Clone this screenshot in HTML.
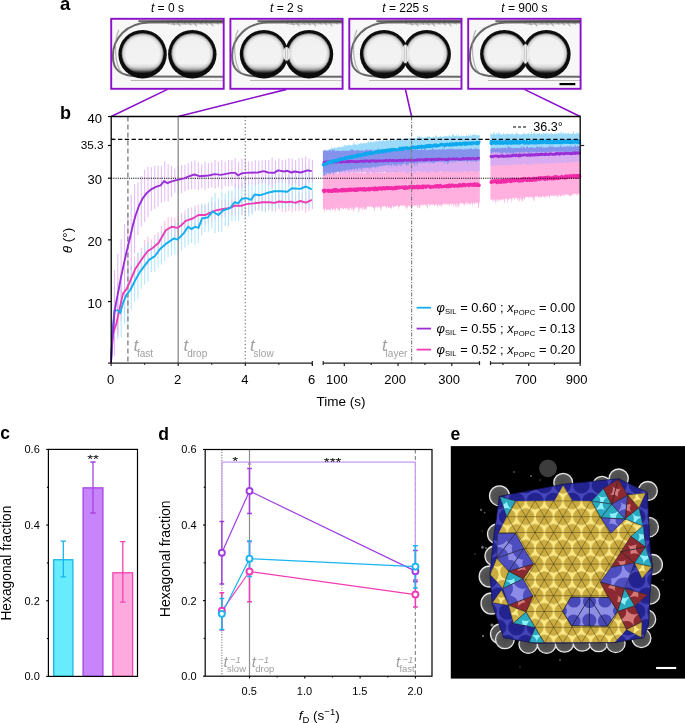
<!DOCTYPE html>
<html><head><meta charset="utf-8"><style>
html,body{margin:0;padding:0;background:#fff;}
body{width:685px;height:723px;overflow:hidden;}
svg{display:block;font-family:"Liberation Sans", sans-serif;}
</style></head><body>
<svg width="685" height="723" viewBox="0 0 685 723">
<rect width="685" height="723" fill="#fff"/>
<defs>
<linearGradient id="dropin" x1="0" y1="0" x2="0" y2="1"><stop offset="0" stop-color="#cfcfcf"/><stop offset="0.07" stop-color="#f0f0f0"/><stop offset="0.74" stop-color="#f3f3f3"/><stop offset="0.83" stop-color="#dadada"/><stop offset="0.9" stop-color="#a0a0a0"/><stop offset="0.96" stop-color="#404040"/><stop offset="1" stop-color="#151515"/></linearGradient>
<linearGradient id="bgv" x1="0" y1="0" x2="0" y2="1"><stop offset="0" stop-color="#e9e9e9"/><stop offset="0.2" stop-color="#f7f7f7"/><stop offset="0.8" stop-color="#f5f5f5"/><stop offset="1" stop-color="#e6e6e6"/></linearGradient>
<radialGradient id="dropsh" cx="50%" cy="50%" r="50%"><stop offset="0.8" stop-color="#000" stop-opacity="0"/><stop offset="0.93" stop-color="#000" stop-opacity="0.12"/><stop offset="1" stop-color="#000" stop-opacity="0.45"/></radialGradient>
<filter id="bl1" x="-20%" y="-20%" width="140%" height="140%"><feGaussianBlur stdDeviation="0.75"/></filter>
<filter id="bl2" x="-20%" y="-20%" width="140%" height="140%"><feGaussianBlur stdDeviation="1.2"/></filter>
<clipPath id="fc0"><rect x="111.3" y="18.9" width="112.3" height="69.80000000000001"/></clipPath>
<clipPath id="fc1"><rect x="230.5" y="18.9" width="112.0" height="69.80000000000001"/></clipPath>
<clipPath id="cl1"><rect x="229.5" y="17.9" width="57.10000000000002" height="71.80000000000001"/></clipPath>
<clipPath id="cr1"><rect x="286.6" y="17.9" width="56.89999999999998" height="71.80000000000001"/></clipPath>
<clipPath id="fc2"><rect x="349.4" y="18.9" width="112.0" height="69.80000000000001"/></clipPath>
<clipPath id="cl2"><rect x="348.4" y="17.9" width="57.0" height="71.80000000000001"/></clipPath>
<clipPath id="cr2"><rect x="405.4" y="17.9" width="57.0" height="71.80000000000001"/></clipPath>
<clipPath id="fc3"><rect x="468.3" y="18.9" width="112.19999999999999" height="69.80000000000001"/></clipPath>
<clipPath id="cl3"><rect x="467.3" y="17.9" width="58.099999999999966" height="71.80000000000001"/></clipPath>
<clipPath id="cr3"><rect x="525.4" y="17.9" width="56.10000000000002" height="71.80000000000001"/></clipPath>
</defs>
<text x="167.45" y="11.8" font-size="12" text-anchor="middle"><tspan font-style="italic">t</tspan> = 0 s</text>
<g clip-path="url(#fc0)">
<rect x="110.3" y="17.9" width="114.3" height="71.80000000000001" fill="#f7f7f7"/>
<path d="M229.6,22.3 L148.9,22.5 C126.9,23.1 112.9,37.9 112.9,55.9 C112.9,69.9 119.9,76.1 138.9,76.5 L229.6,76.7" fill="none" stroke="#505050" stroke-width="2.0" opacity="0.85" filter="url(#bl1)"/>
<path d="M118.9,29.9 C113.9,39.9 113.9,63.9 121.9,72.9" fill="none" stroke="#888" stroke-width="1.2" opacity="0.6" filter="url(#bl1)"/>
<path d="M138.3,21.5 L229.6,20.9" fill="none" stroke="#2a2a2a" stroke-width="2.4" opacity="0.7" filter="url(#bl1)"/>
<path d="M170.3,24.4 L229.6,23.4" fill="none" stroke="#999" stroke-width="1.2" opacity="0.5" filter="url(#bl1)"/>
<path d="M165.3,21.4 l4,3 M170.8,21.4 l4,4 M176.3,21.4 l4,5 M181.8,21.4 l4,3 M187.3,21.4 l4,4 M192.8,21.4 l4,5 M198.3,21.4 l4,3 M203.8,21.4 l4,4 M209.3,21.4 l4,5 M214.8,21.4 l4,3 " stroke="#666" stroke-width="1.1" opacity="0.45" fill="none" filter="url(#bl1)"/>
<path d="M130.9,80.5 L229.6,80.1" fill="none" stroke="#8a8a8a" stroke-width="1.4" opacity="0.6" filter="url(#bl1)"/>
<circle cx="142.6" cy="54.2" r="24.2" fill="#0a0a0a" filter="url(#bl1)"/><circle cx="192.3" cy="54.2" r="24.2" fill="#0a0a0a" filter="url(#bl1)"/><ellipse cx="142.6" cy="53.5" rx="20.8" ry="20.2" fill="url(#dropin)" filter="url(#bl1)"/><ellipse cx="142.6" cy="53.5" rx="20.8" ry="20.2" fill="url(#dropsh)"/><ellipse cx="192.3" cy="53.5" rx="20.8" ry="20.2" fill="url(#dropin)" filter="url(#bl1)"/><ellipse cx="192.3" cy="53.5" rx="20.8" ry="20.2" fill="url(#dropsh)"/>
</g>
<rect x="111.2" y="18.8" width="112.5" height="70" fill="none" stroke="#8c0fcc" stroke-width="1.9"/>
<text x="286.5" y="11.8" font-size="12" text-anchor="middle"><tspan font-style="italic">t</tspan> = 2 s</text>
<g clip-path="url(#fc1)">
<rect x="229.5" y="17.9" width="114.0" height="71.80000000000001" fill="#f7f7f7"/>
<path d="M348.5,22.3 L268.1,22.5 C246.1,23.1 232.1,37.9 232.1,55.9 C232.1,69.9 239.1,76.1 258.1,76.5 L348.5,76.7" fill="none" stroke="#505050" stroke-width="2.0" opacity="0.85" filter="url(#bl1)"/>
<path d="M238.1,29.9 C233.1,39.9 233.1,63.9 241.1,72.9" fill="none" stroke="#888" stroke-width="1.2" opacity="0.6" filter="url(#bl1)"/>
<path d="M257.5,21.5 L348.5,20.9" fill="none" stroke="#2a2a2a" stroke-width="2.4" opacity="0.7" filter="url(#bl1)"/>
<path d="M289.5,24.4 L348.5,23.4" fill="none" stroke="#999" stroke-width="1.2" opacity="0.5" filter="url(#bl1)"/>
<path d="M284.5,21.4 l4,3 M290,21.4 l4,4 M295.5,21.4 l4,5 M301,21.4 l4,3 M306.5,21.4 l4,4 M312,21.4 l4,5 M317.5,21.4 l4,3 M323,21.4 l4,4 M328.5,21.4 l4,5 M334,21.4 l4,3 " stroke="#666" stroke-width="1.1" opacity="0.45" fill="none" filter="url(#bl1)"/>
<path d="M250.1,80.5 L348.5,80.1" fill="none" stroke="#8a8a8a" stroke-width="1.4" opacity="0.6" filter="url(#bl1)"/>
<circle cx="264" cy="54.2" r="24.2" fill="#0a0a0a" filter="url(#bl1)"/><circle cx="309" cy="54.2" r="24.2" fill="#0a0a0a" filter="url(#bl1)"/><ellipse cx="264" cy="53.5" rx="20.8" ry="20.2" fill="url(#dropin)" filter="url(#bl1)"/><ellipse cx="264" cy="53.5" rx="20.8" ry="20.2" fill="url(#dropsh)"/><ellipse cx="309" cy="53.5" rx="20.8" ry="20.2" fill="url(#dropin)" filter="url(#bl1)"/><ellipse cx="309" cy="53.5" rx="20.8" ry="20.2" fill="url(#dropsh)"/><ellipse cx="286.6" cy="53.9" rx="3.6" ry="6.81" fill="#ececec" filter="url(#bl1)"/><path d="M285.5,46.79 V61.61 M287.7,46.79 V61.61" stroke="#888" stroke-width="0.7" opacity="0.55" fill="none"/>
</g>
<rect x="230.4" y="18.8" width="112.2" height="70" fill="none" stroke="#8c0fcc" stroke-width="1.9"/>
<text x="405.4" y="11.8" font-size="12" text-anchor="middle"><tspan font-style="italic">t</tspan> = 225 s</text>
<g clip-path="url(#fc2)">
<rect x="348.4" y="17.9" width="114.0" height="71.80000000000001" fill="#f7f7f7"/>
<path d="M467.4,22.3 L387,22.5 C365,23.1 351,37.9 351,55.9 C351,69.9 358,76.1 377,76.5 L467.4,76.7" fill="none" stroke="#505050" stroke-width="2.0" opacity="0.85" filter="url(#bl1)"/>
<path d="M357,29.9 C352,39.9 352,63.9 360,72.9" fill="none" stroke="#888" stroke-width="1.2" opacity="0.6" filter="url(#bl1)"/>
<path d="M376.4,21.5 L467.4,20.9" fill="none" stroke="#2a2a2a" stroke-width="2.4" opacity="0.7" filter="url(#bl1)"/>
<path d="M408.4,24.4 L467.4,23.4" fill="none" stroke="#999" stroke-width="1.2" opacity="0.5" filter="url(#bl1)"/>
<path d="M403.4,21.4 l4,3 M408.9,21.4 l4,4 M414.4,21.4 l4,5 M419.9,21.4 l4,3 M425.4,21.4 l4,4 M430.9,21.4 l4,5 M436.4,21.4 l4,3 M441.9,21.4 l4,4 M447.4,21.4 l4,5 M452.9,21.4 l4,3 " stroke="#666" stroke-width="1.1" opacity="0.45" fill="none" filter="url(#bl1)"/>
<path d="M369,80.5 L467.4,80.1" fill="none" stroke="#8a8a8a" stroke-width="1.4" opacity="0.6" filter="url(#bl1)"/>
<circle cx="384.1" cy="54.2" r="24.2" fill="#0a0a0a" filter="url(#bl1)"/><circle cx="426.7" cy="54.2" r="24.2" fill="#0a0a0a" filter="url(#bl1)"/><ellipse cx="384.1" cy="53.5" rx="20.8" ry="20.2" fill="url(#dropin)" filter="url(#bl1)"/><ellipse cx="384.1" cy="53.5" rx="20.8" ry="20.2" fill="url(#dropsh)"/><ellipse cx="426.7" cy="53.5" rx="20.8" ry="20.2" fill="url(#dropin)" filter="url(#bl1)"/><ellipse cx="426.7" cy="53.5" rx="20.8" ry="20.2" fill="url(#dropsh)"/><ellipse cx="405.4" cy="53.9" rx="3.6" ry="9.39" fill="#ececec" filter="url(#bl1)"/><path d="M404.3,44.21 V64.19 M406.5,44.21 V64.19" stroke="#888" stroke-width="0.7" opacity="0.55" fill="none"/>
</g>
<rect x="349.3" y="18.8" width="112.2" height="70" fill="none" stroke="#8c0fcc" stroke-width="1.9"/>
<text x="524.4" y="11.8" font-size="12" text-anchor="middle"><tspan font-style="italic">t</tspan> = 900 s</text>
<g clip-path="url(#fc3)">
<rect x="467.3" y="17.9" width="114.19999999999999" height="71.80000000000001" fill="#f7f7f7"/>
<path d="M586.5,22.3 L505.9,22.5 C483.9,23.1 469.9,37.9 469.9,55.9 C469.9,69.9 476.9,76.1 495.9,76.5 L586.5,76.7" fill="none" stroke="#505050" stroke-width="2.0" opacity="0.85" filter="url(#bl1)"/>
<path d="M475.9,29.9 C470.9,39.9 470.9,63.9 478.9,72.9" fill="none" stroke="#888" stroke-width="1.2" opacity="0.6" filter="url(#bl1)"/>
<path d="M495.3,21.5 L586.5,20.9" fill="none" stroke="#2a2a2a" stroke-width="2.4" opacity="0.7" filter="url(#bl1)"/>
<path d="M527.3,24.4 L586.5,23.4" fill="none" stroke="#999" stroke-width="1.2" opacity="0.5" filter="url(#bl1)"/>
<path d="M522.3,21.4 l4,3 M527.8,21.4 l4,4 M533.3,21.4 l4,5 M538.8,21.4 l4,3 M544.3,21.4 l4,4 M549.8,21.4 l4,5 M555.3,21.4 l4,3 M560.8,21.4 l4,4 M566.3,21.4 l4,5 M571.8,21.4 l4,3 " stroke="#666" stroke-width="1.1" opacity="0.45" fill="none" filter="url(#bl1)"/>
<path d="M487.9,80.5 L586.5,80.1" fill="none" stroke="#8a8a8a" stroke-width="1.4" opacity="0.6" filter="url(#bl1)"/>
<circle cx="504.3" cy="54.2" r="24.2" fill="#0a0a0a" filter="url(#bl1)"/><circle cx="546.4" cy="54.2" r="24.2" fill="#0a0a0a" filter="url(#bl1)"/><ellipse cx="504.3" cy="53.5" rx="20.8" ry="20.2" fill="url(#dropin)" filter="url(#bl1)"/><ellipse cx="504.3" cy="53.5" rx="20.8" ry="20.2" fill="url(#dropsh)"/><ellipse cx="546.4" cy="53.5" rx="20.8" ry="20.2" fill="url(#dropin)" filter="url(#bl1)"/><ellipse cx="546.4" cy="53.5" rx="20.8" ry="20.2" fill="url(#dropsh)"/><ellipse cx="525.4" cy="53.9" rx="3.6" ry="9.84" fill="#ececec" filter="url(#bl1)"/><path d="M524.3,43.76 V64.64 M526.5,43.76 V64.64" stroke="#888" stroke-width="0.7" opacity="0.55" fill="none"/>
</g>
<rect x="468.2" y="18.8" width="112.4" height="70" fill="none" stroke="#8c0fcc" stroke-width="1.9"/>
<line x1="559.5" y1="84.1" x2="575.3" y2="84.1" stroke="#000" stroke-width="2.2"/>
<line x1="167.45" y1="89.4" x2="111.2" y2="116.5" stroke="#8c0fcc" stroke-width="1.6"/>
<line x1="286.5" y1="89.4" x2="178.2" y2="116.5" stroke="#8c0fcc" stroke-width="1.6"/>
<line x1="405.4" y1="89.4" x2="411.6" y2="116.5" stroke="#8c0fcc" stroke-width="1.6"/>
<line x1="524.4" y1="89.4" x2="580.2" y2="116.5" stroke="#8c0fcc" stroke-width="1.6"/>
<text x="59.9" y="9.8" font-size="18.5" font-weight="bold">a</text>
<g id="panelb">
<line x1="114.45" y1="308.55" x2="114.45" y2="350.22" stroke="#ffb3dc" stroke-width="1.1" opacity="0.85"/><line x1="114.45" y1="285.8" x2="114.45" y2="335.93" stroke="#a8e2fb" stroke-width="1.1" opacity="0.85"/><line x1="114.45" y1="269.92" x2="114.45" y2="355.64" stroke="#dfb2f2" stroke-width="1.1" opacity="0.85"/><line x1="117.81" y1="297.73" x2="117.81" y2="336.08" stroke="#ffb3dc" stroke-width="1.1" opacity="0.85"/><line x1="117.81" y1="282.1" x2="117.81" y2="338.7" stroke="#a8e2fb" stroke-width="1.1" opacity="0.85"/><line x1="117.81" y1="253.79" x2="117.81" y2="334.4" stroke="#dfb2f2" stroke-width="1.1" opacity="0.85"/><line x1="121.16" y1="282.63" x2="121.16" y2="320.8" stroke="#ffb3dc" stroke-width="1.1" opacity="0.85"/><line x1="121.16" y1="281.35" x2="121.16" y2="337.48" stroke="#a8e2fb" stroke-width="1.1" opacity="0.85"/><line x1="121.16" y1="239.36" x2="121.16" y2="313.43" stroke="#dfb2f2" stroke-width="1.1" opacity="0.85"/><line x1="124.52" y1="270.11" x2="124.52" y2="313.23" stroke="#ffb3dc" stroke-width="1.1" opacity="0.85"/><line x1="124.52" y1="275.06" x2="124.52" y2="323.84" stroke="#a8e2fb" stroke-width="1.1" opacity="0.85"/><line x1="124.52" y1="224.03" x2="124.52" y2="297.71" stroke="#dfb2f2" stroke-width="1.1" opacity="0.85"/><line x1="127.88" y1="264.73" x2="127.88" y2="307.73" stroke="#ffb3dc" stroke-width="1.1" opacity="0.85"/><line x1="127.88" y1="262.26" x2="127.88" y2="323.75" stroke="#a8e2fb" stroke-width="1.1" opacity="0.85"/><line x1="127.88" y1="213.2" x2="127.88" y2="279.74" stroke="#dfb2f2" stroke-width="1.1" opacity="0.85"/><line x1="131.23" y1="265.68" x2="131.23" y2="291.36" stroke="#ffb3dc" stroke-width="1.1" opacity="0.85"/><line x1="131.23" y1="266.35" x2="131.23" y2="309.96" stroke="#a8e2fb" stroke-width="1.1" opacity="0.85"/><line x1="131.23" y1="195.11" x2="131.23" y2="269.97" stroke="#dfb2f2" stroke-width="1.1" opacity="0.85"/><line x1="134.58" y1="256.2" x2="134.58" y2="284.85" stroke="#ffb3dc" stroke-width="1.1" opacity="0.85"/><line x1="134.58" y1="261.17" x2="134.58" y2="301.87" stroke="#a8e2fb" stroke-width="1.1" opacity="0.85"/><line x1="134.58" y1="184.15" x2="134.58" y2="253.86" stroke="#dfb2f2" stroke-width="1.1" opacity="0.85"/><line x1="137.94" y1="252.89" x2="137.94" y2="277.08" stroke="#ffb3dc" stroke-width="1.1" opacity="0.85"/><line x1="137.94" y1="252.17" x2="137.94" y2="298.68" stroke="#a8e2fb" stroke-width="1.1" opacity="0.85"/><line x1="137.94" y1="182.56" x2="137.94" y2="235.02" stroke="#dfb2f2" stroke-width="1.1" opacity="0.85"/><line x1="141.29" y1="247.46" x2="141.29" y2="272.47" stroke="#ffb3dc" stroke-width="1.1" opacity="0.85"/><line x1="141.29" y1="251.51" x2="141.29" y2="288.69" stroke="#a8e2fb" stroke-width="1.1" opacity="0.85"/><line x1="141.29" y1="175.96" x2="141.29" y2="226.38" stroke="#dfb2f2" stroke-width="1.1" opacity="0.85"/><line x1="144.65" y1="239.91" x2="144.65" y2="270.56" stroke="#ffb3dc" stroke-width="1.1" opacity="0.85"/><line x1="144.65" y1="246.62" x2="144.65" y2="284.59" stroke="#a8e2fb" stroke-width="1.1" opacity="0.85"/><line x1="144.65" y1="169.66" x2="144.65" y2="221.91" stroke="#dfb2f2" stroke-width="1.1" opacity="0.85"/><line x1="148" y1="236.45" x2="148" y2="265.62" stroke="#ffb3dc" stroke-width="1.1" opacity="0.85"/><line x1="148" y1="241.09" x2="148" y2="281.49" stroke="#a8e2fb" stroke-width="1.1" opacity="0.85"/><line x1="148" y1="166.79" x2="148" y2="217" stroke="#dfb2f2" stroke-width="1.1" opacity="0.85"/><line x1="151.36" y1="239.26" x2="151.36" y2="258.37" stroke="#ffb3dc" stroke-width="1.1" opacity="0.85"/><line x1="151.36" y1="244.52" x2="151.36" y2="272.29" stroke="#a8e2fb" stroke-width="1.1" opacity="0.85"/><line x1="151.36" y1="167.34" x2="151.36" y2="211.11" stroke="#dfb2f2" stroke-width="1.1" opacity="0.85"/><line x1="154.71" y1="234.65" x2="154.71" y2="257.84" stroke="#ffb3dc" stroke-width="1.1" opacity="0.85"/><line x1="154.71" y1="240.53" x2="154.71" y2="271.83" stroke="#a8e2fb" stroke-width="1.1" opacity="0.85"/><line x1="154.71" y1="165.86" x2="154.71" y2="209.29" stroke="#dfb2f2" stroke-width="1.1" opacity="0.85"/><line x1="158.07" y1="232.09" x2="158.07" y2="254.65" stroke="#ffb3dc" stroke-width="1.1" opacity="0.85"/><line x1="158.07" y1="235.91" x2="158.07" y2="267.46" stroke="#a8e2fb" stroke-width="1.1" opacity="0.85"/><line x1="158.07" y1="165.49" x2="158.07" y2="206.84" stroke="#dfb2f2" stroke-width="1.1" opacity="0.85"/><line x1="161.42" y1="225.9" x2="161.42" y2="249.84" stroke="#ffb3dc" stroke-width="1.1" opacity="0.85"/><line x1="161.42" y1="230.8" x2="161.42" y2="264.71" stroke="#a8e2fb" stroke-width="1.1" opacity="0.85"/><line x1="161.42" y1="165.85" x2="161.42" y2="202.77" stroke="#dfb2f2" stroke-width="1.1" opacity="0.85"/><line x1="164.78" y1="220.74" x2="164.78" y2="243.23" stroke="#ffb3dc" stroke-width="1.1" opacity="0.85"/><line x1="164.78" y1="228.83" x2="164.78" y2="261.08" stroke="#a8e2fb" stroke-width="1.1" opacity="0.85"/><line x1="164.78" y1="161.48" x2="164.78" y2="201.53" stroke="#dfb2f2" stroke-width="1.1" opacity="0.85"/><line x1="168.13" y1="217.06" x2="168.13" y2="240.57" stroke="#ffb3dc" stroke-width="1.1" opacity="0.85"/><line x1="168.13" y1="227.36" x2="168.13" y2="257.32" stroke="#a8e2fb" stroke-width="1.1" opacity="0.85"/><line x1="168.13" y1="164.33" x2="168.13" y2="201.51" stroke="#dfb2f2" stroke-width="1.1" opacity="0.85"/><line x1="171.49" y1="217.08" x2="171.49" y2="236.56" stroke="#ffb3dc" stroke-width="1.1" opacity="0.85"/><line x1="171.49" y1="224.48" x2="171.49" y2="255.69" stroke="#a8e2fb" stroke-width="1.1" opacity="0.85"/><line x1="171.49" y1="165.87" x2="171.49" y2="197.11" stroke="#dfb2f2" stroke-width="1.1" opacity="0.85"/><line x1="174.84" y1="217.5" x2="174.84" y2="237.2" stroke="#ffb3dc" stroke-width="1.1" opacity="0.85"/><line x1="174.84" y1="222.74" x2="174.84" y2="254.64" stroke="#a8e2fb" stroke-width="1.1" opacity="0.85"/><line x1="174.84" y1="168.41" x2="174.84" y2="192.82" stroke="#dfb2f2" stroke-width="1.1" opacity="0.85"/><line x1="178.2" y1="215.86" x2="178.2" y2="238.98" stroke="#ffb3dc" stroke-width="1.1" opacity="0.85"/><line x1="178.2" y1="221.63" x2="178.2" y2="256.17" stroke="#a8e2fb" stroke-width="1.1" opacity="0.85"/><line x1="178.2" y1="165.66" x2="178.2" y2="193.93" stroke="#dfb2f2" stroke-width="1.1" opacity="0.85"/><line x1="181.56" y1="212.72" x2="181.56" y2="237.2" stroke="#ffb3dc" stroke-width="1.1" opacity="0.85"/><line x1="181.56" y1="220.44" x2="181.56" y2="250.65" stroke="#a8e2fb" stroke-width="1.1" opacity="0.85"/><line x1="181.56" y1="164.72" x2="181.56" y2="193.3" stroke="#dfb2f2" stroke-width="1.1" opacity="0.85"/><line x1="184.91" y1="210.36" x2="184.91" y2="232.98" stroke="#ffb3dc" stroke-width="1.1" opacity="0.85"/><line x1="184.91" y1="215.02" x2="184.91" y2="247.79" stroke="#a8e2fb" stroke-width="1.1" opacity="0.85"/><line x1="184.91" y1="164.81" x2="184.91" y2="191.35" stroke="#dfb2f2" stroke-width="1.1" opacity="0.85"/><line x1="188.26" y1="207.9" x2="188.26" y2="232.14" stroke="#ffb3dc" stroke-width="1.1" opacity="0.85"/><line x1="188.26" y1="208.75" x2="188.26" y2="245.02" stroke="#a8e2fb" stroke-width="1.1" opacity="0.85"/><line x1="188.26" y1="163.29" x2="188.26" y2="189.86" stroke="#dfb2f2" stroke-width="1.1" opacity="0.85"/><line x1="191.62" y1="207.33" x2="191.62" y2="230.41" stroke="#ffb3dc" stroke-width="1.1" opacity="0.85"/><line x1="191.62" y1="215.13" x2="191.62" y2="242.91" stroke="#a8e2fb" stroke-width="1.1" opacity="0.85"/><line x1="191.62" y1="161.28" x2="191.62" y2="189.56" stroke="#dfb2f2" stroke-width="1.1" opacity="0.85"/><line x1="194.97" y1="205.64" x2="194.97" y2="228.61" stroke="#ffb3dc" stroke-width="1.1" opacity="0.85"/><line x1="194.97" y1="208.35" x2="194.97" y2="245.08" stroke="#a8e2fb" stroke-width="1.1" opacity="0.85"/><line x1="194.97" y1="160.16" x2="194.97" y2="189.29" stroke="#dfb2f2" stroke-width="1.1" opacity="0.85"/><line x1="198.33" y1="204.81" x2="198.33" y2="225.39" stroke="#ffb3dc" stroke-width="1.1" opacity="0.85"/><line x1="198.33" y1="212.39" x2="198.33" y2="243.29" stroke="#a8e2fb" stroke-width="1.1" opacity="0.85"/><line x1="198.33" y1="161.95" x2="198.33" y2="189.73" stroke="#dfb2f2" stroke-width="1.1" opacity="0.85"/><line x1="201.69" y1="205.58" x2="201.69" y2="224.42" stroke="#ffb3dc" stroke-width="1.1" opacity="0.85"/><line x1="201.69" y1="203.53" x2="201.69" y2="235.16" stroke="#a8e2fb" stroke-width="1.1" opacity="0.85"/><line x1="201.69" y1="164.17" x2="201.69" y2="187.88" stroke="#dfb2f2" stroke-width="1.1" opacity="0.85"/><line x1="205.04" y1="205.26" x2="205.04" y2="224.74" stroke="#ffb3dc" stroke-width="1.1" opacity="0.85"/><line x1="205.04" y1="204.05" x2="205.04" y2="231.82" stroke="#a8e2fb" stroke-width="1.1" opacity="0.85"/><line x1="205.04" y1="161.6" x2="205.04" y2="189.94" stroke="#dfb2f2" stroke-width="1.1" opacity="0.85"/><line x1="208.39" y1="203.81" x2="208.39" y2="223.36" stroke="#ffb3dc" stroke-width="1.1" opacity="0.85"/><line x1="208.39" y1="201.99" x2="208.39" y2="231.57" stroke="#a8e2fb" stroke-width="1.1" opacity="0.85"/><line x1="208.39" y1="162.89" x2="208.39" y2="188.14" stroke="#dfb2f2" stroke-width="1.1" opacity="0.85"/><line x1="211.75" y1="202.09" x2="211.75" y2="222.1" stroke="#ffb3dc" stroke-width="1.1" opacity="0.85"/><line x1="211.75" y1="196.83" x2="211.75" y2="228.3" stroke="#a8e2fb" stroke-width="1.1" opacity="0.85"/><line x1="211.75" y1="161.98" x2="211.75" y2="187.58" stroke="#dfb2f2" stroke-width="1.1" opacity="0.85"/><line x1="215.1" y1="201.65" x2="215.1" y2="219.92" stroke="#ffb3dc" stroke-width="1.1" opacity="0.85"/><line x1="215.1" y1="192.94" x2="215.1" y2="233.08" stroke="#a8e2fb" stroke-width="1.1" opacity="0.85"/><line x1="215.1" y1="159.91" x2="215.1" y2="188.4" stroke="#dfb2f2" stroke-width="1.1" opacity="0.85"/><line x1="218.46" y1="199.93" x2="218.46" y2="219.89" stroke="#ffb3dc" stroke-width="1.1" opacity="0.85"/><line x1="218.46" y1="198.14" x2="218.46" y2="231.74" stroke="#a8e2fb" stroke-width="1.1" opacity="0.85"/><line x1="218.46" y1="161.92" x2="218.46" y2="187.25" stroke="#dfb2f2" stroke-width="1.1" opacity="0.85"/><line x1="221.81" y1="200.6" x2="221.81" y2="217.84" stroke="#ffb3dc" stroke-width="1.1" opacity="0.85"/><line x1="221.81" y1="191.58" x2="221.81" y2="231.73" stroke="#a8e2fb" stroke-width="1.1" opacity="0.85"/><line x1="221.81" y1="159.94" x2="221.81" y2="189.51" stroke="#dfb2f2" stroke-width="1.1" opacity="0.85"/><line x1="225.17" y1="200.66" x2="225.17" y2="216.78" stroke="#ffb3dc" stroke-width="1.1" opacity="0.85"/><line x1="225.17" y1="193.44" x2="225.17" y2="225.94" stroke="#a8e2fb" stroke-width="1.1" opacity="0.85"/><line x1="225.17" y1="162.11" x2="225.17" y2="186.02" stroke="#dfb2f2" stroke-width="1.1" opacity="0.85"/><line x1="228.52" y1="199.95" x2="228.52" y2="216.51" stroke="#ffb3dc" stroke-width="1.1" opacity="0.85"/><line x1="228.52" y1="190.62" x2="228.52" y2="226.46" stroke="#a8e2fb" stroke-width="1.1" opacity="0.85"/><line x1="228.52" y1="160.06" x2="228.52" y2="186.75" stroke="#dfb2f2" stroke-width="1.1" opacity="0.85"/><line x1="231.88" y1="198.75" x2="231.88" y2="215.47" stroke="#ffb3dc" stroke-width="1.1" opacity="0.85"/><line x1="231.88" y1="190.43" x2="231.88" y2="221.08" stroke="#a8e2fb" stroke-width="1.1" opacity="0.85"/><line x1="231.88" y1="160.22" x2="231.88" y2="185.58" stroke="#dfb2f2" stroke-width="1.1" opacity="0.85"/><line x1="235.23" y1="197.05" x2="235.23" y2="214.35" stroke="#ffb3dc" stroke-width="1.1" opacity="0.85"/><line x1="235.23" y1="184.02" x2="235.23" y2="220.74" stroke="#a8e2fb" stroke-width="1.1" opacity="0.85"/><line x1="235.23" y1="158.16" x2="235.23" y2="187.7" stroke="#dfb2f2" stroke-width="1.1" opacity="0.85"/><line x1="238.59" y1="196.19" x2="238.59" y2="215.21" stroke="#ffb3dc" stroke-width="1.1" opacity="0.85"/><line x1="238.59" y1="184.93" x2="238.59" y2="221.09" stroke="#a8e2fb" stroke-width="1.1" opacity="0.85"/><line x1="238.59" y1="161.79" x2="238.59" y2="188.71" stroke="#dfb2f2" stroke-width="1.1" opacity="0.85"/><line x1="241.94" y1="196.17" x2="241.94" y2="215.13" stroke="#ffb3dc" stroke-width="1.1" opacity="0.85"/><line x1="241.94" y1="183.09" x2="241.94" y2="214.28" stroke="#a8e2fb" stroke-width="1.1" opacity="0.85"/><line x1="241.94" y1="158.85" x2="241.94" y2="187.96" stroke="#dfb2f2" stroke-width="1.1" opacity="0.85"/><line x1="245.3" y1="194.73" x2="245.3" y2="214.24" stroke="#ffb3dc" stroke-width="1.1" opacity="0.85"/><line x1="245.3" y1="178.3" x2="245.3" y2="218.34" stroke="#a8e2fb" stroke-width="1.1" opacity="0.85"/><line x1="245.3" y1="158.75" x2="245.3" y2="187.08" stroke="#dfb2f2" stroke-width="1.1" opacity="0.85"/><line x1="248.66" y1="195.17" x2="248.66" y2="212.58" stroke="#ffb3dc" stroke-width="1.1" opacity="0.85"/><line x1="248.66" y1="181.56" x2="248.66" y2="216.47" stroke="#a8e2fb" stroke-width="1.1" opacity="0.85"/><line x1="248.66" y1="161.34" x2="248.66" y2="184.25" stroke="#dfb2f2" stroke-width="1.1" opacity="0.85"/><line x1="252.01" y1="194.18" x2="252.01" y2="212.9" stroke="#ffb3dc" stroke-width="1.1" opacity="0.85"/><line x1="252.01" y1="182.86" x2="252.01" y2="214.13" stroke="#a8e2fb" stroke-width="1.1" opacity="0.85"/><line x1="252.01" y1="161.37" x2="252.01" y2="184" stroke="#dfb2f2" stroke-width="1.1" opacity="0.85"/><line x1="255.36" y1="194.94" x2="255.36" y2="211.36" stroke="#ffb3dc" stroke-width="1.1" opacity="0.85"/><line x1="255.36" y1="178.42" x2="255.36" y2="210.77" stroke="#a8e2fb" stroke-width="1.1" opacity="0.85"/><line x1="255.36" y1="160.2" x2="255.36" y2="184.95" stroke="#dfb2f2" stroke-width="1.1" opacity="0.85"/><line x1="258.72" y1="194.93" x2="258.72" y2="210.51" stroke="#ffb3dc" stroke-width="1.1" opacity="0.85"/><line x1="258.72" y1="179.7" x2="258.72" y2="210.3" stroke="#a8e2fb" stroke-width="1.1" opacity="0.85"/><line x1="258.72" y1="160.63" x2="258.72" y2="183.91" stroke="#dfb2f2" stroke-width="1.1" opacity="0.85"/><line x1="262.07" y1="194.37" x2="262.07" y2="210.22" stroke="#ffb3dc" stroke-width="1.1" opacity="0.85"/><line x1="262.07" y1="177.37" x2="262.07" y2="211.9" stroke="#a8e2fb" stroke-width="1.1" opacity="0.85"/><line x1="262.07" y1="160.35" x2="262.07" y2="182.65" stroke="#dfb2f2" stroke-width="1.1" opacity="0.85"/><line x1="265.43" y1="192.19" x2="265.43" y2="212.21" stroke="#ffb3dc" stroke-width="1.1" opacity="0.85"/><line x1="265.43" y1="174.88" x2="265.43" y2="212.12" stroke="#a8e2fb" stroke-width="1.1" opacity="0.85"/><line x1="265.43" y1="160.03" x2="265.43" y2="183.29" stroke="#dfb2f2" stroke-width="1.1" opacity="0.85"/><line x1="268.78" y1="193.87" x2="268.78" y2="210.53" stroke="#ffb3dc" stroke-width="1.1" opacity="0.85"/><line x1="268.78" y1="175.33" x2="268.78" y2="209.68" stroke="#a8e2fb" stroke-width="1.1" opacity="0.85"/><line x1="268.78" y1="160.09" x2="268.78" y2="185.03" stroke="#dfb2f2" stroke-width="1.1" opacity="0.85"/><line x1="272.14" y1="194.57" x2="272.14" y2="210.53" stroke="#ffb3dc" stroke-width="1.1" opacity="0.85"/><line x1="272.14" y1="171.86" x2="272.14" y2="211.62" stroke="#a8e2fb" stroke-width="1.1" opacity="0.85"/><line x1="272.14" y1="157.85" x2="272.14" y2="187.7" stroke="#dfb2f2" stroke-width="1.1" opacity="0.85"/><line x1="275.5" y1="193.69" x2="275.5" y2="211.51" stroke="#ffb3dc" stroke-width="1.1" opacity="0.85"/><line x1="275.5" y1="173.29" x2="275.5" y2="209.11" stroke="#a8e2fb" stroke-width="1.1" opacity="0.85"/><line x1="275.5" y1="160.6" x2="275.5" y2="183.37" stroke="#dfb2f2" stroke-width="1.1" opacity="0.85"/><line x1="278.85" y1="193.65" x2="278.85" y2="209.5" stroke="#ffb3dc" stroke-width="1.1" opacity="0.85"/><line x1="278.85" y1="174.05" x2="278.85" y2="208.35" stroke="#a8e2fb" stroke-width="1.1" opacity="0.85"/><line x1="278.85" y1="158.45" x2="278.85" y2="182.62" stroke="#dfb2f2" stroke-width="1.1" opacity="0.85"/><line x1="282.2" y1="191.92" x2="282.2" y2="211.7" stroke="#ffb3dc" stroke-width="1.1" opacity="0.85"/><line x1="282.2" y1="175.09" x2="282.2" y2="207.43" stroke="#a8e2fb" stroke-width="1.1" opacity="0.85"/><line x1="282.2" y1="160" x2="282.2" y2="182.28" stroke="#dfb2f2" stroke-width="1.1" opacity="0.85"/><line x1="285.56" y1="191.93" x2="285.56" y2="212.36" stroke="#ffb3dc" stroke-width="1.1" opacity="0.85"/><line x1="285.56" y1="173.4" x2="285.56" y2="209.7" stroke="#a8e2fb" stroke-width="1.1" opacity="0.85"/><line x1="285.56" y1="159.57" x2="285.56" y2="182.81" stroke="#dfb2f2" stroke-width="1.1" opacity="0.85"/><line x1="288.91" y1="192.78" x2="288.91" y2="211.02" stroke="#ffb3dc" stroke-width="1.1" opacity="0.85"/><line x1="288.91" y1="175.05" x2="288.91" y2="205.94" stroke="#a8e2fb" stroke-width="1.1" opacity="0.85"/><line x1="288.91" y1="158.36" x2="288.91" y2="184.58" stroke="#dfb2f2" stroke-width="1.1" opacity="0.85"/><line x1="292.27" y1="191.78" x2="292.27" y2="212.37" stroke="#ffb3dc" stroke-width="1.1" opacity="0.85"/><line x1="292.27" y1="168.26" x2="292.27" y2="208.19" stroke="#a8e2fb" stroke-width="1.1" opacity="0.85"/><line x1="292.27" y1="158.44" x2="292.27" y2="185.98" stroke="#dfb2f2" stroke-width="1.1" opacity="0.85"/><line x1="295.62" y1="194.49" x2="295.62" y2="211.2" stroke="#ffb3dc" stroke-width="1.1" opacity="0.85"/><line x1="295.62" y1="171.23" x2="295.62" y2="205.79" stroke="#a8e2fb" stroke-width="1.1" opacity="0.85"/><line x1="295.62" y1="160" x2="295.62" y2="183.4" stroke="#dfb2f2" stroke-width="1.1" opacity="0.85"/><line x1="298.98" y1="191.76" x2="298.98" y2="211.23" stroke="#ffb3dc" stroke-width="1.1" opacity="0.85"/><line x1="298.98" y1="170.62" x2="298.98" y2="206.97" stroke="#a8e2fb" stroke-width="1.1" opacity="0.85"/><line x1="298.98" y1="158.15" x2="298.98" y2="186.33" stroke="#dfb2f2" stroke-width="1.1" opacity="0.85"/><line x1="302.33" y1="193.09" x2="302.33" y2="210.17" stroke="#ffb3dc" stroke-width="1.1" opacity="0.85"/><line x1="302.33" y1="171.51" x2="302.33" y2="204.52" stroke="#a8e2fb" stroke-width="1.1" opacity="0.85"/><line x1="302.33" y1="157.77" x2="302.33" y2="186.2" stroke="#dfb2f2" stroke-width="1.1" opacity="0.85"/><line x1="305.69" y1="192.3" x2="305.69" y2="212.92" stroke="#ffb3dc" stroke-width="1.1" opacity="0.85"/><line x1="305.69" y1="166.72" x2="305.69" y2="206.53" stroke="#a8e2fb" stroke-width="1.1" opacity="0.85"/><line x1="305.69" y1="156.8" x2="305.69" y2="185.19" stroke="#dfb2f2" stroke-width="1.1" opacity="0.85"/><line x1="309.04" y1="191.37" x2="309.04" y2="211.09" stroke="#ffb3dc" stroke-width="1.1" opacity="0.85"/><line x1="309.04" y1="168.67" x2="309.04" y2="207.27" stroke="#a8e2fb" stroke-width="1.1" opacity="0.85"/><line x1="309.04" y1="158.7" x2="309.04" y2="182.56" stroke="#dfb2f2" stroke-width="1.1" opacity="0.85"/><line x1="312.4" y1="190.85" x2="312.4" y2="208.95" stroke="#ffb3dc" stroke-width="1.1" opacity="0.85"/><line x1="312.4" y1="172.08" x2="312.4" y2="206.52" stroke="#a8e2fb" stroke-width="1.1" opacity="0.85"/><line x1="312.4" y1="159.94" x2="312.4" y2="182.26" stroke="#dfb2f2" stroke-width="1.1" opacity="0.85"/>
<polygon points="322.9,173.95 323.39,173.51 323.88,168.97 324.37,169.55 324.86,169.01 325.35,173.56 325.84,173.6 326.33,172.38 326.82,171 327.31,172.24 327.8,173.78 328.29,170.07 328.78,171.69 329.27,173.58 329.76,173.24 330.25,168.18 330.75,173.05 331.24,171.8 331.73,173.64 332.22,170.09 332.71,173.59 333.2,167.55 333.69,173.14 334.18,173.6 334.67,168.15 335.16,172.61 335.65,172.89 336.14,170.99 336.63,173.32 337.12,173.33 337.61,173.29 338.1,173.53 338.59,173.05 339.08,172.34 339.57,172.86 340.06,172.61 340.55,172.53 341.04,172.78 341.53,173.7 342.02,173.39 342.51,171.62 343,173.05 343.49,172.37 343.98,173.48 344.47,173.2 344.96,171.28 345.45,172.32 345.94,169.74 346.44,172.11 346.93,172.47 347.42,172.65 347.91,172.56 348.4,171.67 348.89,169.03 349.38,172.27 349.87,170.64 350.36,173.36 350.85,173.43 351.34,173.43 351.83,171.09 352.32,173.26 352.81,171.8 353.3,170.08 353.79,173.11 354.28,172.69 354.77,167.09 355.26,173.2 355.75,172.32 356.24,173.12 356.73,171.41 357.22,172.16 357.71,173.42 358.2,171.87 358.69,173.32 359.18,170.94 359.67,173.24 360.16,173.34 360.65,172.89 361.14,172.51 361.63,170.65 362.12,173.12 362.62,172.01 363.11,173.21 363.6,171.49 364.09,173.22 364.58,171.73 365.07,173.19 365.56,173.21 366.05,172.34 366.54,172.02 367.03,172.8 367.52,172.09 368.01,173.1 368.5,173.19 368.99,172.67 369.48,170.98 369.97,172.14 370.46,172.56 370.95,172.77 371.44,171.11 371.93,172.88 372.42,168.85 372.91,170.47 373.4,172.1 373.89,172.39 374.38,171.32 374.87,172.5 375.36,171.2 375.85,172.33 376.34,173.06 376.83,173.02 377.32,172.66 377.81,172.98 378.31,169.85 378.8,172.58 379.29,172.55 379.78,172.82 380.27,172.6 380.76,167.32 381.25,172.62 381.74,172.47 382.23,173.05 382.72,172.02 383.21,172.68 383.7,173.02 384.19,172.87 384.68,172.95 385.17,172.43 385.66,171.59 386.15,170.77 386.64,170.97 387.13,172.19 387.62,166.57 388.11,170.9 388.6,172.88 389.09,169.39 389.58,170.82 390.07,172.69 390.56,171.8 391.05,170.3 391.54,171.5 392.03,171.06 392.52,172.47 393.01,172.65 393.5,172.7 394,171.56 394.49,171.28 394.98,171.78 395.47,170.29 395.96,171.72 396.45,171.11 396.94,170.68 397.43,172.69 397.92,170.71 398.41,170.64 398.9,171.7 399.39,171.74 399.88,170.44 400.37,171.12 400.86,172.5 401.35,170.57 401.84,171.4 402.33,172.63 402.82,170.94 403.31,170.92 403.8,171.55 404.29,171.7 404.78,169.11 405.27,166.57 405.76,172.65 406.25,169.93 406.74,171.71 407.23,172.28 407.72,172.27 408.21,172.4 408.7,167.75 409.19,169.88 409.69,169.13 410.18,172.19 410.67,171.54 411.16,172.59 411.65,171.63 412.14,172.34 412.63,171.96 413.12,172.56 413.61,169.63 414.1,168.37 414.59,168.83 415.08,171.79 415.57,166.12 416.06,171.8 416.55,171.99 417.04,172.33 417.53,171.95 418.02,172.03 418.51,171.33 419,171.72 419.49,169.01 419.98,170.86 420.47,167.93 420.96,170.4 421.45,170.32 421.94,170.19 422.43,171.87 422.92,168.22 423.41,171.38 423.9,171.83 424.39,166.4 424.88,170.67 425.38,171.06 425.87,172.07 426.36,171.98 426.85,171.24 427.34,168.55 427.83,171.37 428.32,171.98 428.81,171.64 429.3,171.87 429.79,170.95 430.28,170.07 430.77,171.43 431.26,171.52 431.75,172.16 432.24,166.77 432.73,171.13 433.22,169.06 433.71,171.73 434.2,171.41 434.69,167.29 435.18,168.91 435.67,172.15 436.16,168.58 436.65,170.77 437.14,171.38 437.63,169.38 438.12,166.43 438.61,171.97 439.1,170.97 439.59,167.6 440.08,170.47 440.57,171.15 441.07,172.05 441.56,171.69 442.05,170.44 442.54,171.87 443.03,170.47 443.52,171.89 444.01,170.88 444.5,171.28 444.99,170.58 445.48,171.47 445.97,166.93 446.46,168.59 446.95,171.6 447.44,166.84 447.93,171.42 448.42,170.9 448.91,171.12 449.4,170.22 449.89,171.57 450.38,171.31 450.87,170.12 451.36,169.4 451.85,170.82 452.34,166.33 452.83,169.19 453.32,171.52 453.81,171.35 454.3,170.81 454.79,171.49 455.28,170.14 455.77,171.63 456.26,171.49 456.76,171.62 457.25,171.76 457.74,168.2 458.23,169.73 458.72,167.54 459.21,171.5 459.7,169.63 460.19,170.07 460.68,171.06 461.17,171.5 461.66,171.26 462.15,166.8 462.64,166.44 463.13,171.06 463.62,169 464.11,171.67 464.6,171 465.09,171.39 465.58,168.09 466.07,170.87 466.56,169.38 467.05,171.65 467.54,167.65 468.03,169.49 468.52,171.02 469.01,166.61 469.5,171.18 469.99,171.05 470.48,171.64 470.97,167.67 471.46,167.04 471.96,171.2 472.45,166.59 472.94,170.83 473.43,170.7 473.92,167.38 474.41,168.99 474.9,168.81 475.39,170.07 475.88,170.95 476.37,169.12 476.86,171.2 477.35,171.08 477.84,171.48 478.33,170.89 478.82,168.08 479.31,171.02 479.8,171.34 479.8,203.1 479.31,202.16 478.82,208.44 478.33,208.34 477.84,203.36 477.35,202.2 476.86,204.35 476.37,202.26 475.88,202.87 475.39,202.8 474.9,204.56 474.41,204.35 473.92,202.55 473.43,203.33 472.94,202.73 472.45,207.2 471.96,203.33 471.46,202.36 470.97,203.95 470.48,204.61 469.99,202.89 469.5,204.41 469.01,203.95 468.52,202.94 468.03,206.11 467.54,202.94 467.05,202.59 466.56,202.57 466.07,205.2 465.58,202.59 465.09,203.29 464.6,206.61 464.11,203.63 463.62,203.53 463.13,205.4 462.64,203.03 462.15,202.89 461.66,203.39 461.17,202.72 460.68,203.38 460.19,203.51 459.7,202.82 459.21,207.18 458.72,203.45 458.23,209.22 457.74,206.28 457.25,203.66 456.76,202.97 456.26,208.75 455.77,203.72 455.28,207.69 454.79,203.82 454.3,203.31 453.81,207.85 453.32,205.3 452.83,203.45 452.34,203.65 451.85,203.44 451.36,205.24 450.87,203.46 450.38,204 449.89,203.2 449.4,207.31 448.91,203.66 448.42,205 447.93,203.25 447.44,205.19 446.95,203.71 446.46,204.31 445.97,204.95 445.48,204.3 444.99,203.35 444.5,203.75 444.01,204.77 443.52,203.5 443.03,205.33 442.54,203.89 442.05,204.02 441.56,207.5 441.07,205.92 440.57,204.78 440.08,205.83 439.59,205.58 439.1,205.39 438.61,203.84 438.12,204.05 437.63,206.71 437.14,207.82 436.65,203.65 436.16,204.69 435.67,205.67 435.18,203.74 434.69,206.75 434.2,204.69 433.71,204.22 433.22,204.17 432.73,205.39 432.24,204.03 431.75,204.36 431.26,204.52 430.77,205.06 430.28,204.75 429.79,207.4 429.3,204.41 428.81,204.1 428.32,204.12 427.83,204.23 427.34,210.41 426.85,204.42 426.36,207.83 425.87,204.34 425.38,204.88 424.88,204.67 424.39,204.6 423.9,206.29 423.41,204.83 422.92,204.39 422.43,204.27 421.94,205.87 421.45,205.19 420.96,204.33 420.47,205.54 419.98,208.2 419.49,206.98 419,209.33 418.51,204.68 418.02,204.86 417.53,208.77 417.04,207.28 416.55,204.5 416.06,205.33 415.57,205.88 415.08,205.27 414.59,205.04 414.1,206.51 413.61,204.74 413.12,206.77 412.63,207.5 412.14,205.26 411.65,205.18 411.16,205.71 410.67,204.68 410.18,208.31 409.69,206.63 409.19,205.84 408.7,204.95 408.21,205.93 407.72,206.15 407.23,209.43 406.74,205.29 406.25,210.33 405.76,205.81 405.27,209.25 404.78,205.22 404.29,205.09 403.8,205.91 403.31,205.47 402.82,206.83 402.33,205.46 401.84,205 401.35,205.58 400.86,205.49 400.37,205.17 399.88,206.59 399.39,206.92 398.9,205.87 398.41,211.06 397.92,205.5 397.43,205.64 396.94,205.63 396.45,205.3 395.96,206.43 395.47,207.43 394.98,205.25 394.49,207.09 394,206.86 393.5,208.19 393.01,206.03 392.52,205.39 392.03,207.25 391.54,208.95 391.05,208.2 390.56,208.29 390.07,206.62 389.58,208.13 389.09,207.05 388.6,208.37 388.11,207.16 387.62,205.78 387.13,206.18 386.64,208.94 386.15,207.3 385.66,206.81 385.17,206.04 384.68,205.67 384.19,206.47 383.7,206.17 383.21,206.82 382.72,206.83 382.23,206.5 381.74,206.46 381.25,211.16 380.76,207.05 380.27,211.03 379.78,206.77 379.29,206.83 378.8,206.31 378.31,207.66 377.81,208.84 377.32,206.2 376.83,208.1 376.34,206.18 375.85,206.66 375.36,207.61 374.87,208.87 374.38,212.43 373.89,207.18 373.4,208.95 372.91,206.99 372.42,206.29 371.93,207.16 371.44,207.43 370.95,206.19 370.46,206.21 369.97,206.51 369.48,206.77 368.99,206.82 368.5,206.62 368.01,206.56 367.52,206.73 367.03,206.53 366.54,210.51 366.05,207.01 365.56,209.55 365.07,209.49 364.58,208.99 364.09,210.88 363.6,207.33 363.11,206.56 362.62,208.41 362.12,210.52 361.63,207 361.14,210.42 360.65,206.78 360.16,208.99 359.67,207.09 359.18,212.32 358.69,213.03 358.2,207.8 357.71,207.31 357.22,207.62 356.73,206.74 356.24,207.34 355.75,207.41 355.26,207.67 354.77,209.64 354.28,207.87 353.79,211.69 353.3,212.32 352.81,207.1 352.32,208.89 351.83,210.53 351.34,208.68 350.85,207.37 350.36,207.88 349.87,207.2 349.38,211.58 348.89,207.49 348.4,210.37 347.91,211.59 347.42,208.28 346.93,208.97 346.44,208.23 345.94,208.06 345.45,209.42 344.96,208.29 344.47,207.69 343.98,208.51 343.49,209.67 343,208.4 342.51,208.55 342.02,208.3 341.53,209.86 341.04,207.63 340.55,207.36 340.06,208.56 339.57,211.36 339.08,211.14 338.59,208.38 338.1,211.27 337.61,208.31 337.12,208.87 336.63,208.03 336.14,207.87 335.65,210.8 335.16,211.87 334.67,209.23 334.18,207.59 333.69,208.86 333.2,209.32 332.71,210.43 332.22,210.27 331.73,207.92 331.24,207.98 330.75,212.39 330.25,208.53 329.76,210.32 329.27,210.25 328.78,208.82 328.29,210.23 327.8,209.54 327.31,210.4 326.82,208.89 326.33,211.56 325.84,208.25 325.35,208.32 324.86,208.65 324.37,214.34 323.88,208.91 323.39,209.87 322.9,208.52" fill="#ffb0de" opacity="1"/>
<polygon points="322.9,150.51 323.39,151.28 323.88,150.71 324.37,150.38 324.86,150.6 325.35,150 325.84,150.79 326.33,150.38 326.82,151.22 327.31,151.31 327.8,150.75 328.29,151.03 328.78,150.86 329.27,150.1 329.76,148.21 330.25,150.89 330.75,149.93 331.24,151.36 331.73,151.29 332.22,148.49 332.71,149.25 333.2,149.76 333.69,151.12 334.18,149.03 334.67,150.62 335.16,151.15 335.65,151.22 336.14,151.1 336.63,150.48 337.12,151.31 337.61,150.41 338.1,151.01 338.59,150.03 339.08,151.24 339.57,150.89 340.06,150.47 340.55,151.13 341.04,150.85 341.53,150.97 342.02,150.96 342.51,150.9 343,149.65 343.49,150.88 343.98,150.19 344.47,151.22 344.96,150.78 345.45,150.8 345.94,150.71 346.44,151.19 346.93,150.37 347.42,151.11 347.91,150.81 348.4,151.05 348.89,150.58 349.38,151.07 349.87,149.85 350.36,150.97 350.85,148.85 351.34,150.61 351.83,149.05 352.32,149.25 352.81,149.73 353.3,149.88 353.79,150.69 354.28,149.69 354.77,150.9 355.26,150.5 355.75,150.98 356.24,150.04 356.73,151.04 357.22,149.93 357.71,149.6 358.2,150.32 358.69,150.25 359.18,150.6 359.67,150.59 360.16,150.55 360.65,151 361.14,150.47 361.63,149.85 362.12,150.51 362.62,150.48 363.11,150.88 363.6,150.9 364.09,150.4 364.58,150.16 365.07,149.9 365.56,150.38 366.05,150.39 366.54,148.53 367.03,149.38 367.52,149.88 368.01,150.75 368.5,150.38 368.99,148.93 369.48,149.66 369.97,150.85 370.46,149.76 370.95,149.07 371.44,149.53 371.93,150.32 372.42,150.68 372.91,150.3 373.4,150.83 373.89,150.71 374.38,149.93 374.87,150.69 375.36,150.73 375.85,150.02 376.34,149.17 376.83,150.12 377.32,150.72 377.81,150.01 378.31,149.52 378.8,147.59 379.29,150.42 379.78,150.31 380.27,149.68 380.76,149.39 381.25,149.94 381.74,150.04 382.23,150.44 382.72,150.71 383.21,149.97 383.7,150.15 384.19,150.61 384.68,149.87 385.17,150.7 385.66,150.61 386.15,150.49 386.64,149.98 387.13,149.9 387.62,150.56 388.11,150.45 388.6,150.58 389.09,149.02 389.58,150.24 390.07,150.63 390.56,149.98 391.05,149.8 391.54,148.41 392.03,150.39 392.52,150.58 393.01,150.19 393.5,150.55 394,150.58 394.49,148.32 394.98,150.4 395.47,150.01 395.96,149.23 396.45,150.27 396.94,150.52 397.43,149.33 397.92,150.54 398.41,149.44 398.9,149.45 399.39,150.32 399.88,150.31 400.37,150.19 400.86,149.56 401.35,149.51 401.84,149.85 402.33,149.24 402.82,150.23 403.31,147.79 403.8,148.77 404.29,150.22 404.78,149.37 405.27,149.35 405.76,148.75 406.25,150.22 406.74,149.63 407.23,149.55 407.72,149.91 408.21,149.46 408.7,149.95 409.19,149.72 409.69,150.2 410.18,150.32 410.67,150.26 411.16,150.28 411.65,150.03 412.14,150.34 412.63,149.41 413.12,149.39 413.61,150.29 414.1,149.98 414.59,148.96 415.08,150.27 415.57,148.35 416.06,150.22 416.55,150.21 417.04,148.79 417.53,149.49 418.02,149.49 418.51,150.2 419,149.14 419.49,149.96 419.98,150.25 420.47,149.99 420.96,149.88 421.45,147.58 421.94,148.71 422.43,150.21 422.92,149.77 423.41,149.88 423.9,149.59 424.39,148.62 424.88,148.83 425.38,150.19 425.87,149.04 426.36,150.18 426.85,149.63 427.34,150.01 427.83,149.82 428.32,149.91 428.81,149.88 429.3,149.18 429.79,150.04 430.28,150.06 430.77,149.17 431.26,149.33 431.75,149.7 432.24,148.34 432.73,148.35 433.22,149.91 433.71,148.24 434.2,149.7 434.69,149.86 435.18,149.46 435.67,148.94 436.16,149.71 436.65,149.91 437.14,149.18 437.63,149.89 438.12,148.84 438.61,149.92 439.1,148.29 439.59,149.84 440.08,149.03 440.57,149.87 441.07,149.77 441.56,149.4 442.05,149.66 442.54,147.02 443.03,149.88 443.52,149.88 444.01,146.76 444.5,148.89 444.99,149.77 445.48,149.85 445.97,149.54 446.46,149.52 446.95,148.97 447.44,149.11 447.93,149.78 448.42,149.49 448.91,147.98 449.4,149.2 449.89,149.44 450.38,148.85 450.87,148.68 451.36,148.33 451.85,149.04 452.34,149.55 452.83,149.76 453.32,148.62 453.81,149.04 454.3,149.38 454.79,149.04 455.28,148.91 455.77,149.64 456.26,148.6 456.76,149.26 457.25,149.76 457.74,149.64 458.23,147.52 458.72,149.68 459.21,149.14 459.7,149.18 460.19,148.34 460.68,149.32 461.17,149.55 461.66,149.33 462.15,149.62 462.64,149.37 463.13,149.46 463.62,149.7 464.11,149.26 464.6,149.35 465.09,149.48 465.58,147.43 466.07,149.48 466.56,149.27 467.05,149.55 467.54,148.33 468.03,149.14 468.52,149.44 469.01,149.29 469.5,148.26 469.99,149.12 470.48,148.98 470.97,148.18 471.46,148.08 471.96,149.22 472.45,149.15 472.94,149.59 473.43,149.32 473.92,149.29 474.41,149.12 474.9,148.7 475.39,147.44 475.88,149.5 476.37,147.65 476.86,149.42 477.35,148.73 477.84,149.52 478.33,148.67 478.82,149.43 479.31,149.29 479.8,149.16 479.8,170.83 479.31,171.9 478.82,170.83 478.33,170.94 477.84,173.14 477.35,170.74 476.86,172.15 476.37,171.96 475.88,172.15 475.39,172.28 474.9,171.11 474.41,171.56 473.92,171.28 473.43,170.99 472.94,171.79 472.45,170.93 471.96,171.01 471.46,171.03 470.97,171.13 470.48,170.9 469.99,171.07 469.5,172.15 469.01,171.62 468.52,173.46 468.03,171.47 467.54,171.62 467.05,172.02 466.56,171.02 466.07,172.12 465.58,171.43 465.09,171.92 464.6,171.09 464.11,171.81 463.62,171.29 463.13,171.27 462.64,170.91 462.15,174.07 461.66,172.02 461.17,171.8 460.68,173.25 460.19,171.48 459.7,171.71 459.21,171.91 458.72,171.59 458.23,171.49 457.74,172.13 457.25,171.54 456.76,173.86 456.26,171.32 455.77,171.78 455.28,173.06 454.79,171.36 454.3,171.43 453.81,171.18 453.32,171.95 452.83,171.39 452.34,171.75 451.85,171.45 451.36,171.88 450.87,171.94 450.38,172.68 449.89,171.19 449.4,172.1 448.91,171.45 448.42,172.08 447.93,171.75 447.44,171.51 446.95,171.57 446.46,172.27 445.97,171.05 445.48,171.21 444.99,171.85 444.5,171.49 444.01,172.31 443.52,171.43 443.03,173.68 442.54,172.1 442.05,171.23 441.56,171.21 441.07,171.39 440.57,171.21 440.08,172.56 439.59,171.37 439.1,171.31 438.61,171.59 438.12,171.79 437.63,171.57 437.14,172.19 436.65,172.59 436.16,171.43 435.67,171.95 435.18,172.25 434.69,171.63 434.2,172.86 433.71,171.7 433.22,171.39 432.73,171.17 432.24,171.23 431.75,171.56 431.26,171.52 430.77,172.41 430.28,172.41 429.79,171.99 429.3,171.73 428.81,171.38 428.32,173.5 427.83,172.62 427.34,171.75 426.85,172.48 426.36,171.75 425.87,174.26 425.38,171.4 424.88,171.37 424.39,171.31 423.9,171.43 423.41,172.21 422.92,172.43 422.43,171.67 421.94,172.02 421.45,171.82 420.96,171.57 420.47,172.27 419.98,171.51 419.49,171.72 419,171.46 418.51,171.37 418.02,171.56 417.53,172.69 417.04,172.64 416.55,171.33 416.06,171.49 415.57,173.62 415.08,172.94 414.59,173.1 414.1,172.69 413.61,172.05 413.12,172.41 412.63,172.15 412.14,171.38 411.65,171.47 411.16,173.47 410.67,171.38 410.18,173.3 409.69,172.15 409.19,171.67 408.7,172.41 408.21,172.94 407.72,172.85 407.23,174.48 406.74,172.34 406.25,173.31 405.76,171.73 405.27,171.73 404.78,173.73 404.29,171.64 403.8,171.44 403.31,171.63 402.82,172.26 402.33,172.03 401.84,171.9 401.35,171.7 400.86,172.95 400.37,172.57 399.88,171.5 399.39,171.56 398.9,171.96 398.41,171.98 397.92,172.97 397.43,172.49 396.94,173.25 396.45,171.78 395.96,171.66 395.47,172.33 394.98,172.26 394.49,171.64 394,172.16 393.5,172.73 393.01,171.75 392.52,172.14 392.03,173.41 391.54,172.6 391.05,172.02 390.56,171.9 390.07,172.39 389.58,171.81 389.09,172.79 388.6,172.39 388.11,171.71 387.62,173.79 387.13,172.1 386.64,171.77 386.15,172.3 385.66,171.95 385.17,171.96 384.68,171.63 384.19,171.82 383.7,173.43 383.21,172.08 382.72,171.76 382.23,171.63 381.74,172.51 381.25,174.84 380.76,171.88 380.27,171.69 379.78,171.81 379.29,172.82 378.8,172.35 378.31,171.92 377.81,172.08 377.32,174.88 376.83,173.4 376.34,172.34 375.85,172.05 375.36,172.3 374.87,172.93 374.38,173.51 373.89,173.92 373.4,171.88 372.91,172.03 372.42,171.97 371.93,173.75 371.44,171.86 370.95,172 370.46,171.88 369.97,172.1 369.48,173.89 368.99,171.9 368.5,174.27 368.01,174.97 367.52,173.12 367.03,174.98 366.54,171.9 366.05,172.17 365.56,171.84 365.07,173 364.58,171.87 364.09,171.84 363.6,172.28 363.11,172.27 362.62,171.91 362.12,171.98 361.63,173.04 361.14,172.05 360.65,172.61 360.16,172.31 359.67,172.71 359.18,172.55 358.69,172.15 358.2,172.5 357.71,171.97 357.22,171.9 356.73,172.54 356.24,173.7 355.75,172.11 355.26,172.28 354.77,172.3 354.28,172.06 353.79,173.4 353.3,172.11 352.81,172.05 352.32,172.69 351.83,172.32 351.34,171.97 350.85,174.9 350.36,172.05 349.87,174.67 349.38,172.49 348.89,174.03 348.4,172.22 347.91,172.52 347.42,172.74 346.93,173.89 346.44,172.62 345.94,172.12 345.45,173.7 344.96,173.36 344.47,173.85 343.98,172.18 343.49,172.18 343,175.21 342.51,172.44 342.02,172.69 341.53,174.47 341.04,172.29 340.55,172.98 340.06,172.11 339.57,172.68 339.08,172.13 338.59,172.69 338.1,172.24 337.61,172.22 337.12,172.38 336.63,172.25 336.14,172.81 335.65,172.26 335.16,172.45 334.67,172.86 334.18,172.18 333.69,173.3 333.2,172.58 332.71,172.48 332.22,172.81 331.73,172.28 331.24,172.4 330.75,174.09 330.25,173.5 329.76,172.22 329.27,172.99 328.78,172.35 328.29,175.35 327.8,172.47 327.31,173.88 326.82,172.39 326.33,172.34 325.84,172.55 325.35,172.45 324.86,172.28 324.37,173.69 323.88,173.09 323.39,172.63 322.9,172.67" fill="#d9abf1" opacity="1"/>
<polygon points="322.9,149.16 323.39,151.2 323.88,150.32 324.37,150.04 324.86,149.48 325.35,150.69 325.84,150.04 326.33,150.1 326.82,149.76 327.31,150.19 327.8,149.66 328.29,149.6 328.78,149.44 329.27,149.23 329.76,149.89 330.25,149.16 330.75,148.59 331.24,149.11 331.73,146.24 332.22,148.35 332.71,149.23 333.2,148.01 333.69,148.65 334.18,148.24 334.67,146.57 335.16,147.48 335.65,148.23 336.14,148.09 336.63,147.7 337.12,148.11 337.61,147.7 338.1,146.4 338.59,146.3 339.08,147.26 339.57,147.16 340.06,146.71 340.55,147.28 341.04,147.23 341.53,146.48 342.02,147.36 342.51,145.14 343,147.17 343.49,147.12 343.98,144.49 344.47,145.88 344.96,144.46 345.45,145.81 345.94,145.49 346.44,145.46 346.93,145.41 347.42,144.99 347.91,146.14 348.4,144.77 348.89,145.11 349.38,144.36 349.87,145.19 350.36,145.57 350.85,145.47 351.34,144.74 351.83,145.63 352.32,145.57 352.81,143.87 353.3,142.94 353.79,145.36 354.28,144.4 354.77,141.27 355.26,144.61 355.75,144.03 356.24,144.83 356.73,144.91 357.22,144.71 357.71,144.68 358.2,144.56 358.69,143.35 359.18,143.23 359.67,144.43 360.16,143.16 360.65,143.03 361.14,143.27 361.63,143.58 362.12,143.83 362.62,142.79 363.11,143.97 363.6,142.22 364.09,143.48 364.58,143.6 365.07,143.05 365.56,143.19 366.05,143.01 366.54,143.37 367.03,143.01 367.52,142.4 368.01,142.84 368.5,140.37 368.99,142.37 369.48,143.08 369.97,141.86 370.46,142.61 370.95,139.16 371.44,141.97 371.93,142.27 372.42,142.3 372.91,141.79 373.4,141.01 373.89,142.59 374.38,141.99 374.87,140.79 375.36,142.38 375.85,140.69 376.34,141.46 376.83,140.35 377.32,141.04 377.81,141.71 378.31,141.28 378.8,141.81 379.29,139.29 379.78,140.99 380.27,141.24 380.76,141.52 381.25,140.19 381.74,141.62 382.23,140.18 382.72,140.74 383.21,139.39 383.7,140.85 384.19,141.24 384.68,141.2 385.17,140.9 385.66,140.78 386.15,141.09 386.64,137.2 387.13,141.04 387.62,139.55 388.11,140.15 388.6,140.27 389.09,140.92 389.58,138.9 390.07,140.03 390.56,139.31 391.05,137.84 391.54,139.02 392.03,140.39 392.52,140.41 393.01,140.5 393.5,139.73 394,139.89 394.49,138.05 394.98,139.5 395.47,140.24 395.96,140.03 396.45,139.26 396.94,139.13 397.43,139.6 397.92,136.78 398.41,139.86 398.9,139.78 399.39,137.7 399.88,138.18 400.37,138.41 400.86,138.87 401.35,139.81 401.84,138.42 402.33,138.66 402.82,138.86 403.31,139.6 403.8,139.38 404.29,138.98 404.78,139.33 405.27,138.43 405.76,138.26 406.25,139.45 406.74,139.2 407.23,137.4 407.72,139.22 408.21,139.24 408.7,137.46 409.19,138.66 409.69,137.5 410.18,138.21 410.67,138.91 411.16,137.87 411.65,138.93 412.14,138.75 412.63,138.85 413.12,137.16 413.61,138.77 414.1,138.54 414.59,138.77 415.08,138.8 415.57,137.72 416.06,138.14 416.55,138.46 417.04,138.27 417.53,134.69 418.02,138.56 418.51,136.36 419,137.3 419.49,134.72 419.98,136.89 420.47,138.36 420.96,136.69 421.45,138.24 421.94,135.99 422.43,137.54 422.92,138.16 423.41,137.08 423.9,138.22 424.39,137.33 424.88,137.92 425.38,137.26 425.87,136.51 426.36,137.93 426.85,136.81 427.34,136.82 427.83,136.41 428.32,136.2 428.81,137.34 429.3,135.58 429.79,135.91 430.28,137.73 430.77,137.45 431.26,137.42 431.75,137.85 432.24,137.24 432.73,137.68 433.22,136.08 433.71,137.37 434.2,137.25 434.69,137.64 435.18,134.6 435.67,136.93 436.16,136.86 436.65,134.18 437.14,137.38 437.63,137.27 438.12,137.5 438.61,136.31 439.1,137.47 439.59,136.6 440.08,136.23 440.57,135.38 441.07,137.35 441.56,136.69 442.05,137.02 442.54,136.81 443.03,136.41 443.52,137.12 444.01,135.89 444.5,135.49 444.99,136.72 445.48,135.36 445.97,136.67 446.46,135.65 446.95,136.86 447.44,136.54 447.93,135.46 448.42,135.38 448.91,136.99 449.4,133.86 449.89,136.72 450.38,135.98 450.87,136.21 451.36,136.38 451.85,136.91 452.34,133.41 452.83,134.12 453.32,135.21 453.81,134.69 454.3,135.8 454.79,135.68 455.28,136.01 455.77,135.8 456.26,136.02 456.76,133.72 457.25,136.35 457.74,136.57 458.23,133.56 458.72,136.35 459.21,135.88 459.7,136.5 460.19,136.26 460.68,136.25 461.17,136.48 461.66,134.73 462.15,135.7 462.64,136.3 463.13,135.89 463.62,135.54 464.11,136.1 464.6,136.21 465.09,135.96 465.58,136.41 466.07,134.43 466.56,135.58 467.05,136.04 467.54,136.01 468.03,136.17 468.52,134.28 469.01,136.25 469.5,135.72 469.99,136.17 470.48,133.07 470.97,136.09 471.46,135.8 471.96,135.27 472.45,134.49 472.94,134.85 473.43,134.75 473.92,134.63 474.41,133.69 474.9,134.09 475.39,134.67 475.88,135.42 476.37,135.25 476.86,134.55 477.35,135.13 477.84,135.45 478.33,134.76 478.82,135.53 479.31,135.53 479.8,134.45 479.8,161.89 479.31,160.4 478.82,160.83 478.33,160.38 477.84,160.66 477.35,160.54 476.86,162.14 476.37,160.63 475.88,163.39 475.39,160.99 474.9,160.13 474.41,160.27 473.92,161.38 473.43,160.81 472.94,161.54 472.45,160.92 471.96,162.1 471.46,161.34 470.97,160.64 470.48,161.59 469.99,160.51 469.5,161.6 469.01,160.78 468.52,160.88 468.03,160.38 467.54,161.81 467.05,164.34 466.56,161.03 466.07,160.64 465.58,160.82 465.09,161.28 464.6,161.13 464.11,160.71 463.62,161.08 463.13,161.25 462.64,161.71 462.15,161.54 461.66,161.45 461.17,161.31 460.68,160.82 460.19,161.07 459.7,160.71 459.21,160.74 458.72,161.23 458.23,161.34 457.74,161.53 457.25,161.69 456.76,161 456.26,161.25 455.77,160.99 455.28,163.3 454.79,161.05 454.3,161.06 453.81,160.8 453.32,162.94 452.83,161.8 452.34,162.32 451.85,160.99 451.36,161.56 450.87,160.94 450.38,161.34 449.89,161.46 449.4,163.65 448.91,161.67 448.42,162.85 447.93,163.42 447.44,164.98 446.95,161.43 446.46,161.45 445.97,163.89 445.48,161.82 444.99,161.64 444.5,163.89 444.01,161.32 443.52,162.01 443.03,163.15 442.54,161.34 442.05,161.35 441.56,161.93 441.07,161.39 440.57,162.54 440.08,161.41 439.59,162.06 439.1,162.26 438.61,161.58 438.12,161.49 437.63,163.11 437.14,161.54 436.65,161.7 436.16,161.49 435.67,162.25 435.18,162.2 434.69,163.6 434.2,162.95 433.71,162.83 433.22,163.61 432.73,162.88 432.24,162.38 431.75,162.41 431.26,162.6 430.77,161.9 430.28,163.53 429.79,162.08 429.3,162.44 428.81,161.84 428.32,163.85 427.83,162.28 427.34,161.95 426.85,162.45 426.36,162.01 425.87,162.85 425.38,163.23 424.88,162.25 424.39,162.73 423.9,162.17 423.41,162.32 422.92,163.6 422.43,162.3 421.94,162.43 421.45,162.78 420.96,162.98 420.47,162.27 419.98,162.71 419.49,162.34 419,162.69 418.51,162.43 418.02,162.75 417.53,165.02 417.04,166.46 416.55,162.72 416.06,162.86 415.57,162.79 415.08,164.83 414.59,166.45 414.1,164.97 413.61,163.34 413.12,163.11 412.63,163.05 412.14,163.29 411.65,164.84 411.16,163.63 410.67,162.91 410.18,163.04 409.69,163.57 409.19,163.37 408.7,163.97 408.21,165.66 407.72,163.64 407.23,165.28 406.74,165.83 406.25,165.77 405.76,163.4 405.27,163.23 404.78,163.4 404.29,163.47 403.8,163.45 403.31,163.75 402.82,164.81 402.33,163.78 401.84,166.26 401.35,163.65 400.86,167.53 400.37,164.81 399.88,163.65 399.39,165.99 398.9,164.11 398.41,163.76 397.92,167.75 397.43,163.97 396.94,164.33 396.45,167 395.96,164.74 395.47,167.15 394.98,164.49 394.49,164.09 394,167.01 393.5,166.15 393.01,164.2 392.52,164.39 392.03,164.27 391.54,167.58 391.05,165.77 390.56,164.91 390.07,164.7 389.58,165.1 389.09,168.48 388.6,164.54 388.11,164.99 387.62,164.78 387.13,165.65 386.64,165.17 386.15,164.79 385.66,165.51 385.17,165.66 384.68,166.08 384.19,165.14 383.7,165.86 383.21,165.75 382.72,167.33 382.23,165.37 381.74,166.8 381.25,165.82 380.76,166.64 380.27,165.53 379.78,166.48 379.29,165.66 378.8,166.83 378.31,167.09 377.81,165.63 377.32,168.05 376.83,167.29 376.34,166.02 375.85,167.77 375.36,167.59 374.87,168.04 374.38,166.79 373.89,166.26 373.4,166.34 372.91,168.33 372.42,167.27 371.93,168.36 371.44,166.6 370.95,168.06 370.46,167.27 369.97,168.15 369.48,170.1 368.99,166.85 368.5,168.1 368.01,168.16 367.52,167.22 367.03,167.77 366.54,168.39 366.05,167.98 365.56,167.77 365.07,167.03 364.58,169.01 364.09,168.4 363.6,167.24 363.11,168.27 362.62,167.29 362.12,170.67 361.63,170.1 361.14,168.7 360.65,167.62 360.16,169.53 359.67,169.14 359.18,167.93 358.69,168.06 358.2,167.87 357.71,169.96 357.22,171.38 356.73,169.2 356.24,168.14 355.75,168.43 355.26,168.36 354.77,168.97 354.28,171.17 353.79,168.96 353.3,169.13 352.81,169.46 352.32,168.8 351.83,169.59 351.34,171.54 350.85,169.46 350.36,169.52 349.87,169.34 349.38,170.66 348.89,169.65 348.4,171.72 347.91,169.38 347.42,169.53 346.93,170.11 346.44,169.81 345.94,170.56 345.45,170.72 344.96,170.76 344.47,171.45 343.98,170.91 343.49,170.26 343,170.49 342.51,171 342.02,171.58 341.53,171.91 341.04,171.35 340.55,170.93 340.06,172.2 339.57,174.41 339.08,171.12 338.59,171.41 338.1,171.32 337.61,171.87 337.12,171.73 336.63,172.72 336.14,171.98 335.65,173.4 335.16,172.5 334.67,171.64 334.18,172.36 333.69,175.79 333.2,174.56 332.71,172.92 332.22,173.08 331.73,172.25 331.24,172.81 330.75,174.2 330.25,173.28 329.76,174.39 329.27,174.64 328.78,173.44 328.29,173.01 327.8,173.01 327.31,173.21 326.82,173.46 326.33,175.4 325.84,174.72 325.35,174.65 324.86,175.4 324.37,175.92 323.88,175.3 323.39,176.11 322.9,175.57" fill="#9cdafa" opacity="1" style="mix-blend-mode:multiply"/>
<polygon points="490.4,163.89 490.9,164.66 491.4,164.72 491.9,163.56 492.4,160.89 492.89,161.95 493.39,159.8 493.89,163.99 494.39,164.85 494.89,163.52 495.39,160.79 495.89,163.58 496.39,163.63 496.89,162.93 497.38,164.06 497.88,164.06 498.38,162.93 498.88,164.55 499.38,163.88 499.88,163.32 500.38,159.33 500.88,163.72 501.38,158.23 501.87,163.41 502.37,164.3 502.87,158.45 503.37,163.42 503.87,160.95 504.37,161.78 504.87,161.01 505.37,164.23 505.87,163.34 506.36,164.13 506.86,162.86 507.36,163.74 507.86,162.8 508.36,163.55 508.86,163.8 509.36,164.36 509.86,161.4 510.36,162.57 510.85,163.21 511.35,163.81 511.85,163.07 512.35,162.9 512.85,164.04 513.35,161.95 513.85,164.05 514.35,163.02 514.85,162.66 515.34,164.06 515.84,161.79 516.34,162.12 516.84,163.82 517.34,163.93 517.84,162.69 518.34,163.11 518.84,163.96 519.34,162.64 519.83,163.09 520.33,163.54 520.83,159.71 521.33,163.36 521.83,161.24 522.33,162.46 522.83,162.82 523.33,163.45 523.83,161.86 524.32,163.27 524.82,162.79 525.32,163.39 525.82,163.11 526.32,158.1 526.82,162.46 527.32,162.55 527.82,162.92 528.32,163.52 528.81,163.02 529.31,163.36 529.81,163.25 530.31,161.92 530.81,163.38 531.31,163.48 531.81,160.73 532.31,162.66 532.81,160.97 533.3,162.87 533.8,162.79 534.3,163.16 534.8,162.39 535.3,162.54 535.8,161.52 536.3,159.79 536.8,162.72 537.3,161.93 537.79,160.12 538.29,162.25 538.79,162.88 539.29,162.59 539.79,162.01 540.29,162.54 540.79,163 541.29,162.68 541.79,163.1 542.28,162.55 542.78,162.69 543.28,162.64 543.78,163 544.28,162.67 544.78,159.35 545.28,159.74 545.78,162.92 546.28,163.09 546.77,161.37 547.27,162.25 547.77,161.16 548.27,160.07 548.77,161.46 549.27,162.84 549.77,160.9 550.27,162.93 550.77,162.7 551.26,162.39 551.76,162.89 552.26,161.31 552.76,159.99 553.26,160.88 553.76,161.97 554.26,162.18 554.76,159.97 555.26,162.29 555.75,159.74 556.25,162.72 556.75,162.59 557.25,162.39 557.75,160.53 558.25,160.84 558.75,160.51 559.25,162.17 559.75,158 560.24,158.41 560.74,160.5 561.24,161.05 561.74,162.53 562.24,161.71 562.74,158.37 563.24,160.27 563.74,160.61 564.24,162.05 564.73,156.94 565.23,161.24 565.73,162.39 566.23,161.62 566.73,161.86 567.23,160.47 567.73,161.98 568.23,161.24 568.73,157.99 569.22,161.8 569.72,162.11 570.22,161.68 570.72,161.05 571.22,162 571.72,160.82 572.22,159.94 572.72,162.06 573.22,161.52 573.71,162.12 574.21,161.85 574.71,161.23 575.21,161.54 575.71,161.43 576.21,162.01 576.71,155.72 577.21,161.96 577.71,155.81 578.2,161.88 578.7,161.14 579.2,160.78 579.7,157.98 580.2,160.42 580.2,197.38 579.7,194.69 579.2,193.08 578.7,193.44 578.2,194.21 577.71,194.49 577.21,195.22 576.71,195.45 576.21,193.28 575.71,193.59 575.21,194.35 574.71,193.56 574.21,195.34 573.71,193.96 573.22,193.84 572.72,194.05 572.22,196.38 571.72,194.56 571.22,195.36 570.72,195.92 570.22,196.37 569.72,195.03 569.22,197.19 568.73,194.46 568.23,194.74 567.73,194.28 567.23,195.64 566.73,194.13 566.23,194.29 565.73,194.68 565.23,194.46 564.73,195.66 564.24,195.33 563.74,196.72 563.24,194.2 562.74,194.39 562.24,195.35 561.74,196.15 561.24,195.23 560.74,197.14 560.24,196.22 559.75,195.25 559.25,194.55 558.75,197.26 558.25,195.27 557.75,194.64 557.25,198.47 556.75,197.07 556.25,195.05 555.75,196.13 555.26,194.74 554.76,197.1 554.26,194.73 553.76,196.61 553.26,195.27 552.76,196.18 552.26,195.18 551.76,195.5 551.26,195.7 550.77,195.32 550.27,195.07 549.77,197.03 549.27,198.97 548.77,195.42 548.27,195.83 547.77,195.62 547.27,196.92 546.77,195.93 546.28,197.09 545.78,195.82 545.28,198.49 544.78,197.75 544.28,196.23 543.78,197.45 543.28,195.88 542.78,195.61 542.28,196.64 541.79,196.89 541.29,197.34 540.79,198.68 540.29,195.81 539.79,196.3 539.29,197.45 538.79,198.13 538.29,197.05 537.79,196.04 537.3,196.25 536.8,196.35 536.3,197.35 535.8,196.45 535.3,196.22 534.8,196.45 534.3,200.89 533.8,201.19 533.3,198.18 532.81,196.44 532.31,199.1 531.81,196.45 531.31,196.77 530.81,198.26 530.31,197 529.81,196.42 529.31,196.93 528.81,196.88 528.32,199.26 527.82,196.61 527.32,197.31 526.82,196.76 526.32,197.15 525.82,196.96 525.32,196.97 524.82,199.22 524.32,200.06 523.83,197.17 523.33,197.59 522.83,201.62 522.33,202.02 521.83,197.48 521.33,200.6 520.83,200.05 520.33,197.07 519.83,198.58 519.34,202.2 518.84,200.64 518.34,197.91 517.84,197.85 517.34,200.95 516.84,197.73 516.34,197.97 515.84,197.92 515.34,197.35 514.85,200 514.35,200.17 513.85,197.73 513.35,197.65 512.85,197.77 512.35,198.38 511.85,203.97 511.35,199.27 510.85,198.92 510.36,198.02 509.86,199.11 509.36,198.31 508.86,199.64 508.36,200.28 507.86,197.9 507.36,204.27 506.86,199.38 506.36,198.26 505.87,199.09 505.37,198.55 504.87,198.91 504.37,204.47 503.87,199.97 503.37,198.32 502.87,200.96 502.37,198.81 501.87,200.94 501.38,198.94 500.88,199.87 500.38,199.4 499.88,201.76 499.38,199.72 498.88,199.18 498.38,199.66 497.88,203.23 497.38,199.98 496.89,199.36 496.39,199.77 495.89,205.03 495.39,201.04 494.89,199.8 494.39,198.81 493.89,202.63 493.39,199.17 492.89,201.75 492.4,199.49 491.9,199.05 491.4,200.3 490.9,199.55 490.4,199.94" fill="#ffb0de" opacity="1"/>
<polygon points="490.4,148.15 490.9,148.76 491.4,148.96 491.9,147.5 492.4,148.79 492.89,147.45 493.39,148.79 493.89,147.5 494.39,148.59 494.89,147.5 495.39,148.52 495.89,148.51 496.39,148.65 496.89,148.19 497.38,147.47 497.88,146.95 498.38,148.28 498.88,148.67 499.38,148.1 499.88,147.86 500.38,148.31 500.88,148.69 501.38,148.29 501.87,147.72 502.37,147.26 502.87,147.49 503.37,148.44 503.87,148.12 504.37,148.36 504.87,147.8 505.37,146.79 505.87,148.38 506.36,147.98 506.86,148.46 507.36,148.31 507.86,145.77 508.36,147 508.86,145.98 509.36,147.24 509.86,147.66 510.36,148.27 510.85,146.1 511.35,147.7 511.85,148.19 512.35,148.49 512.85,147.59 513.35,148.42 513.85,148.11 514.35,148.04 514.85,147.79 515.34,148.35 515.84,146.67 516.34,148.33 516.84,148.18 517.34,147.79 517.84,147.85 518.34,148.17 518.84,148.27 519.34,147.65 519.83,147.93 520.33,147.87 520.83,147.68 521.33,147.18 521.83,145.1 522.33,148.2 522.83,147.88 523.33,145.69 523.83,147.06 524.32,147.05 524.82,148.02 525.32,148.21 525.82,148.02 526.32,147.22 526.82,146.43 527.32,146.53 527.82,146.17 528.32,148.01 528.81,147.81 529.31,147.22 529.81,148.02 530.31,147.04 530.81,147.08 531.31,147.35 531.81,147.44 532.31,147.97 532.81,147.16 533.3,147.87 533.8,146.58 534.3,147.93 534.8,147.92 535.3,147.84 535.8,147.71 536.3,147.59 536.8,146.3 537.3,147.02 537.79,145.57 538.29,147.6 538.79,147.36 539.29,146.62 539.79,147.74 540.29,146.98 540.79,147.36 541.29,146.37 541.79,146.2 542.28,147.78 542.78,147.64 543.28,147.11 543.78,147.66 544.28,147.3 544.78,147.4 545.28,147.77 545.78,147.44 546.28,147.26 546.77,147.71 547.27,146.84 547.77,147.47 548.27,147.47 548.77,147.1 549.27,144.49 549.77,147.02 550.27,146.02 550.77,146.85 551.26,147.28 551.76,146.36 552.26,145.39 552.76,147.32 553.26,146.52 553.76,146.78 554.26,146.94 554.76,147.52 555.26,147.24 555.75,147.02 556.25,147.31 556.75,147.18 557.25,147.51 557.75,147.02 558.25,146.82 558.75,147.33 559.25,147.18 559.75,146.42 560.24,145.23 560.74,145.4 561.24,147.36 561.74,146.72 562.24,147.05 562.74,146.94 563.24,147.32 563.74,145.53 564.24,147.12 564.73,147.2 565.23,146.36 565.73,146.91 566.23,146.57 566.73,146.46 567.23,146.23 567.73,146.54 568.23,145.94 568.73,146.92 569.22,147.08 569.72,145.57 570.22,145.17 570.72,146.89 571.22,146.36 571.72,146.28 572.22,147.13 572.72,147.13 573.22,146.83 573.71,146.42 574.21,146.64 574.71,145.05 575.21,143.91 575.71,146.34 576.21,146.77 576.71,146.94 577.21,145.9 577.71,145.71 578.2,146.43 578.7,146.39 579.2,146.29 579.7,145.93 580.2,146.01 580.2,162.65 579.7,161.76 579.2,161.86 578.7,162.42 578.2,162.29 577.71,162.04 577.21,161.69 576.71,161.76 576.21,161.73 575.71,162.71 575.21,161.74 574.71,162.38 574.21,161.74 573.71,161.99 573.22,162.32 572.72,162.58 572.22,162.24 571.72,162.16 571.22,162.27 570.72,162.98 570.22,162.08 569.72,162.73 569.22,162.54 568.73,162.06 568.23,163.63 567.73,162.05 567.23,164.65 566.73,162.2 566.23,163.64 565.73,162.24 565.23,162.28 564.73,162.35 564.24,162.14 563.74,162.4 563.24,162.69 562.74,163.8 562.24,163.39 561.74,165.42 561.24,162.4 560.74,162.96 560.24,162.61 559.75,162.94 559.25,162.61 558.75,162.39 558.25,162.64 557.75,162.85 557.25,164.03 556.75,162.53 556.25,162.65 555.75,162.82 555.26,165.67 554.76,162.82 554.26,162.93 553.76,162.88 553.26,163.12 552.76,163.72 552.26,163.5 551.76,164.26 551.26,162.89 550.77,163.45 550.27,163.86 549.77,163.87 549.27,162.73 548.77,165.24 548.27,163.42 547.77,163.32 547.27,163.04 546.77,162.93 546.28,166.02 545.78,162.86 545.28,163.55 544.78,163.23 544.28,163.59 543.78,163.28 543.28,162.97 542.78,164.75 542.28,163.3 541.79,163.75 541.29,163.42 540.79,163.17 540.29,163.45 539.79,164.44 539.29,163.12 538.79,164.77 538.29,163.26 537.79,163.16 537.3,164.49 536.8,163.81 536.3,163.34 535.8,164.16 535.3,163.9 534.8,164.56 534.3,163.31 533.8,164 533.3,163.8 532.81,163.58 532.31,165.44 531.81,164.69 531.31,163.49 530.81,163.46 530.31,165.81 529.81,163.84 529.31,164.88 528.81,164.66 528.32,164.62 527.82,165.18 527.32,164.22 526.82,164.36 526.32,164.04 525.82,163.9 525.32,164.36 524.82,164.03 524.32,163.73 523.83,163.81 523.33,164.38 522.83,163.89 522.33,165.17 521.83,164.8 521.33,163.89 520.83,164.82 520.33,165.43 519.83,163.91 519.34,163.94 518.84,164.47 518.34,164.59 517.84,164.58 517.34,164.18 516.84,164.05 516.34,165.57 515.84,164.64 515.34,164.19 514.85,164.45 514.35,164.67 513.85,164.78 513.35,164.97 512.85,164.6 512.35,164.31 511.85,165.89 511.35,164.47 510.85,164.73 510.36,164.9 509.86,164.99 509.36,164.31 508.86,165.05 508.36,167.23 507.86,166.23 507.36,164.83 506.86,164.43 506.36,164.72 505.87,164.87 505.37,164.56 504.87,165.84 504.37,164.92 503.87,164.91 503.37,165.36 502.87,164.96 502.37,166.08 501.87,164.56 501.38,164.74 500.88,164.62 500.38,167.41 499.88,164.77 499.38,164.72 498.88,164.95 498.38,165.24 497.88,167.03 497.38,165.71 496.89,165.54 496.39,164.8 495.89,166.21 495.39,165.45 494.89,165.13 494.39,165.01 493.89,165.95 493.39,166.11 492.89,166.99 492.4,165.74 491.9,165.22 491.4,166.15 490.9,165.1 490.4,165.23" fill="#d9abf1" opacity="1"/>
<polygon points="490.4,133.3 490.9,133.32 491.4,134.19 491.9,134.05 492.4,134.65 492.89,134.14 493.39,133.29 493.89,130.78 494.39,133.36 494.89,134.74 495.39,134.7 495.89,133.95 496.39,131.95 496.89,134.59 497.38,133.41 497.88,134.57 498.38,133.24 498.88,130.74 499.38,133.73 499.88,133.12 500.38,134.34 500.88,134.62 501.38,134.66 501.87,134.21 502.37,134.66 502.87,134.19 503.37,131.81 503.87,134.46 504.37,134.4 504.87,134.44 505.37,133.28 505.87,134.34 506.36,134.45 506.86,134.52 507.36,132.65 507.86,133.29 508.36,134.35 508.86,134.01 509.36,134.5 509.86,133.76 510.36,133.8 510.85,134.43 511.35,134.21 511.85,132.67 512.35,132.66 512.85,134.3 513.35,134.53 513.85,134.63 514.35,134.48 514.85,134.53 515.34,133.49 515.84,134.22 516.34,133.37 516.84,130.73 517.34,134.35 517.84,133.45 518.34,133.91 518.84,134.05 519.34,134.59 519.83,134.22 520.33,134.47 520.83,134.45 521.33,134.4 521.83,134.43 522.33,133.89 522.83,134.15 523.33,132.07 523.83,134.33 524.32,132.43 524.82,134.25 525.32,134.26 525.82,134.52 526.32,134.04 526.82,134.11 527.32,133.39 527.82,133.76 528.32,133.37 528.81,132.47 529.31,134.03 529.81,133.99 530.31,134.04 530.81,134 531.31,130.53 531.81,133.59 532.31,134.23 532.81,134.04 533.3,134.29 533.8,132.66 534.3,132.12 534.8,133.32 535.3,133.46 535.8,134.12 536.3,134.49 536.8,132.57 537.3,133.59 537.79,134.22 538.29,133.12 538.79,133.23 539.29,133.73 539.79,133.34 540.29,133.48 540.79,134.21 541.29,134.15 541.79,133.82 542.28,133.72 542.78,134.2 543.28,131.82 543.78,133.7 544.28,132.76 544.78,134.25 545.28,133.82 545.78,132.67 546.28,132.4 546.77,133.94 547.27,132.72 547.77,134.25 548.27,134.3 548.77,132.78 549.27,133.8 549.77,133.9 550.27,133.21 550.77,133.75 551.26,132.97 551.76,133.25 552.26,133.65 552.76,133.92 553.26,133.9 553.76,134.15 554.26,134.31 554.76,133.1 555.26,133.98 555.75,132.57 556.25,133.35 556.75,134.13 557.25,132.78 557.75,133.89 558.25,133.76 558.75,133.1 559.25,133.82 559.75,132.67 560.24,133.85 560.74,131.74 561.24,130.77 561.74,133.86 562.24,133.92 562.74,132.91 563.24,133.57 563.74,131.99 564.24,134.28 564.73,133.68 565.23,132.47 565.73,133.65 566.23,133.71 566.73,133.57 567.23,133.18 567.73,133.77 568.23,133.14 568.73,132.81 569.22,134.15 569.72,134.19 570.22,134.16 570.72,132.86 571.22,134.2 571.72,133.02 572.22,134.2 572.72,133.71 573.22,130.25 573.71,132.19 574.21,133.83 574.71,134.23 575.21,133.91 575.71,133.85 576.21,132.27 576.71,133.51 577.21,134.17 577.71,132.2 578.2,132.27 578.7,133.98 579.2,133.44 579.7,133.58 580.2,133.32 580.2,151.46 579.7,151.68 579.2,151.48 578.7,151.07 578.2,151.32 577.71,152.65 577.21,151.4 576.71,151.58 576.21,151.86 575.71,151.34 575.21,151.36 574.71,155.06 574.21,151.8 573.71,151.23 573.22,152.78 572.72,151.96 572.22,152.26 571.72,151.75 571.22,152.24 570.72,151.94 570.22,151.2 569.72,152.82 569.22,151.37 568.73,152.6 568.23,151.94 567.73,151.18 567.23,152.49 566.73,152.89 566.23,151.83 565.73,153.37 565.23,151.7 564.73,151.79 564.24,152.08 563.74,152.6 563.24,151.88 562.74,151.67 562.24,151.27 561.74,152.3 561.24,152.46 560.74,151.43 560.24,152.09 559.75,151.66 559.25,152.28 558.75,151.59 558.25,151.7 557.75,151.29 557.25,152.22 556.75,151.81 556.25,153.22 555.75,151.37 555.26,151.55 554.76,151.6 554.26,151.49 553.76,152.14 553.26,151.32 552.76,151.72 552.26,151.58 551.76,151.77 551.26,151.48 550.77,152.93 550.27,151.93 549.77,155.34 549.27,151.44 548.77,152.09 548.27,151.8 547.77,151.65 547.27,151.5 546.77,153.16 546.28,151.42 545.78,153.63 545.28,152.41 544.78,153.12 544.28,151.67 543.78,152.16 543.28,152.16 542.78,151.57 542.28,152.07 541.79,152.71 541.29,153.83 540.79,152.39 540.29,152.23 539.79,151.84 539.29,152.4 538.79,151.96 538.29,151.94 537.79,152.47 537.3,155.48 536.8,152.2 536.3,152.86 535.8,155.06 535.3,152.3 534.8,151.9 534.3,151.56 533.8,153.05 533.3,151.65 532.81,151.8 532.31,152.48 531.81,154.15 531.31,151.55 530.81,151.7 530.31,152.04 529.81,155.17 529.31,151.95 528.81,152.84 528.32,155.58 527.82,152.38 527.32,152.65 526.82,151.61 526.32,152.41 525.82,152.32 525.32,151.68 524.82,151.81 524.32,152.94 523.83,155.05 523.33,152.06 522.83,152.32 522.33,151.76 521.83,152.99 521.33,152.81 520.83,152.22 520.33,152.33 519.83,153.78 519.34,155.68 518.84,151.79 518.34,151.95 517.84,151.73 517.34,153.27 516.84,151.74 516.34,153.85 515.84,154.22 515.34,151.82 514.85,151.91 514.35,153.07 513.85,154.16 513.35,155.41 512.85,151.77 512.35,155.76 511.85,151.96 511.35,153.28 510.85,153.92 510.36,153.92 509.86,152.39 509.36,152.94 508.86,154.01 508.36,152.2 507.86,153.54 507.36,152.12 506.86,153.8 506.36,152.67 505.87,155.83 505.37,152.86 504.87,152.07 504.37,152.41 503.87,152.14 503.37,152.84 502.87,154.38 502.37,152.7 501.87,153.87 501.38,152.91 500.88,153.21 500.38,154.23 499.88,152.51 499.38,152.32 498.88,152.6 498.38,152.19 497.88,151.95 497.38,154.47 496.89,152.12 496.39,152.39 495.89,152.14 495.39,152.64 494.89,152.09 494.39,152.05 493.89,152.22 493.39,152.42 492.89,153.04 492.4,151.99 491.9,154.81 491.4,152.31 490.9,155.78 490.4,152.37" fill="#9cdafa" opacity="1" style="mix-blend-mode:multiply"/>
<polyline points="322.9,191.6 323.42,190.38 323.95,191.8 324.47,191.05 324.99,190.02 325.51,190.52 326.04,190.94 326.56,190.67 327.08,190.96 327.61,190.45 328.13,190.33 328.65,191.35 329.18,190.32 329.7,191.14 330.22,191.3 330.75,190.86 331.27,190.56 331.79,191.5 332.31,190.5 332.84,191.34 333.36,189.68 333.88,190.41 334.41,190.8 334.93,189.6 335.45,191.21 335.97,189.6 336.5,190.63 337.02,189.78 337.54,191.24 338.07,190.49 338.59,190.95 339.11,190.32 339.64,190.65 340.16,190.63 340.68,189.85 341.2,189.66 341.73,190.9 342.25,189.49 342.77,191.01 343.3,189.57 343.82,189.34 344.34,189.3 344.87,190.66 345.39,190.97 345.91,189.88 346.44,190.34 346.96,189.52 347.48,190.79 348,190.33 348.53,189.25 349.05,189.03 349.57,190.29 350.1,188.96 350.62,190.52 351.14,189.42 351.66,189.27 352.19,189.95 352.71,189.4 353.23,189.86 353.76,189.03 354.28,190.52 354.8,189.33 355.33,190.34 355.85,188.94 356.37,190.21 356.89,190.55 357.42,189.35 357.94,188.61 358.46,189.29 358.99,189.79 359.51,188.93 360.03,189.55 360.56,188.63 361.08,189.35 361.6,189.85 362.12,189.23 362.65,189.71 363.17,188.56 363.69,189.97 364.22,188.53 364.74,190.11 365.26,190.24 365.79,190.1 366.31,189.25 366.83,188.76 367.36,188.85 367.88,189.64 368.4,189.11 368.92,189.95 369.45,188.26 369.97,189.02 370.49,189.76 371.02,189.2 371.54,189.07 372.06,188.14 372.58,188.22 373.11,188.46 373.63,189.68 374.15,189.57 374.68,188.31 375.2,189.68 375.72,187.88 376.25,188.99 376.77,189.7 377.29,188.44 377.81,189.61 378.34,189.02 378.86,187.78 379.38,188.33 379.91,188.54 380.43,188.11 380.95,189.08 381.48,187.93 382,189.13 382.52,188.13 383.04,187.65 383.57,188.61 384.09,187.66 384.61,188.55 385.14,189 385.66,188.59 386.18,188.3 386.71,187.42 387.23,188.36 387.75,187.51 388.27,188.59 388.8,187.53 389.32,188.4 389.84,187.93 390.37,187.95 390.89,188.51 391.41,187.49 391.94,187.48 392.46,189 392.98,187.76 393.5,188.76 394.03,188.8 394.55,187.99 395.07,187.31 395.6,187.18 396.12,188.72 396.64,187.18 397.17,187.92 397.69,187.97 398.21,187.12 398.74,187.79 399.26,187.16 399.78,187.89 400.3,187.81 400.83,187.51 401.35,187.15 401.87,187.54 402.4,187.11 402.92,186.94 403.44,187.14 403.96,188.38 404.49,187.62 405.01,188.38 405.53,186.61 406.06,188.44 406.58,187.51 407.1,188.09 407.63,187.63 408.15,187.85 408.67,186.91 409.19,187.93 409.72,186.71 410.24,186.91 410.76,186.42 411.29,187.12 411.81,187.35 412.33,186.88 412.86,188.05 413.38,186.42 413.9,187.39 414.43,186.68 414.95,187.38 415.47,187.73 415.99,187.56 416.52,186.25 417.04,186.59 417.56,187.28 418.09,188.02 418.61,186.12 419.13,187.25 419.65,187.38 420.18,187.6 420.7,186.63 421.22,187.55 421.75,186.83 422.27,187.73 422.79,185.88 423.32,187.72 423.84,186.64 424.36,186.61 424.88,185.95 425.41,186.24 425.93,187.2 426.45,187.07 426.98,185.99 427.5,186.36 428.02,185.93 428.55,186.02 429.07,186.04 429.59,186.24 430.12,187.51 430.64,187.53 431.16,187.1 431.68,186.45 432.21,186.47 432.73,187.01 433.25,187.24 433.78,186.91 434.3,186.66 434.82,185.76 435.35,186.59 435.87,187.01 436.39,186.87 436.91,185.46 437.44,186.69 437.96,185.93 438.48,185.54 439.01,187.12 439.53,186.51 440.05,186.64 440.57,185.39 441.1,186.76 441.62,186.96 442.14,186.87 442.67,186.53 443.19,186.68 443.71,186.6 444.24,186.15 444.76,185.82 445.28,186.58 445.81,186.48 446.33,186.63 446.85,185.46 447.37,186.77 447.9,185.89 448.42,186.69 448.94,185.01 449.47,186.69 449.99,186.31 450.51,185.22 451.03,186.37 451.56,185.13 452.08,185.04 452.6,185.54 453.13,185.08 453.65,185.57 454.17,186.38 454.7,185.91 455.22,185.94 455.74,185.28 456.26,186.04 456.79,186.04 457.31,185.8 457.83,186.29 458.36,186.04 458.88,185.18 459.4,184.52 459.93,185.63 460.45,185.97 460.97,184.96 461.5,185.45 462.02,185.91 462.54,185.8 463.06,184.2 463.59,185.15 464.11,184.18 464.63,184.35 465.16,185.73 465.68,184.92 466.2,185.27 466.73,184.96 467.25,184.69 467.77,184.43 468.29,184.68 468.82,185.64 469.34,185.17 469.86,184.5 470.39,184.07 470.91,184.41 471.43,185.25 471.96,184.71 472.48,185.13 473,185.4 473.52,184 474.05,185.1 474.57,183.8 475.09,185.34 475.62,184.04 476.14,184.19 476.66,185.55 477.19,184.33 477.71,184.04 478.23,185.34 478.75,184.76 479.28,185.31 479.8,184.29" fill="none" stroke="#f22aa8" stroke-width="3.0" stroke-linejoin="round"/>
<polyline points="322.9,162.2 323.42,162.73 323.95,162.18 324.47,162.75 324.99,161.78 325.51,162.53 326.04,161.72 326.56,162.14 327.08,161.5 327.61,161.7 328.13,162.61 328.65,162.01 329.18,162.42 329.7,161.74 330.22,161.85 330.75,161.53 331.27,162.06 331.79,162.42 332.31,161.99 332.84,161.81 333.36,162.46 333.88,162.41 334.41,162.12 334.93,161.4 335.45,162.04 335.97,161.82 336.5,162.42 337.02,161.69 337.54,162.04 338.07,161.99 338.59,161.67 339.11,161.83 339.64,162.01 340.16,162.27 340.68,161.77 341.2,161.59 341.73,162.32 342.25,161.2 342.77,162.12 343.3,161.93 343.82,161.76 344.34,161.62 344.87,161.97 345.39,162.12 345.91,161.92 346.44,161.93 346.96,161.06 347.48,161.39 348,161.16 348.53,162.12 349.05,162.04 349.57,161.13 350.1,161.65 350.62,161.62 351.14,160.97 351.66,161.37 352.19,161.79 352.71,161.65 353.23,161.2 353.76,161.77 354.28,161.19 354.8,161.48 355.33,161.32 355.85,161.98 356.37,161.57 356.89,161.74 357.42,161.58 357.94,161.21 358.46,161.89 358.99,161.58 359.51,161.54 360.03,161.03 360.56,160.88 361.08,161.37 361.6,161.65 362.12,161.6 362.65,161.05 363.17,160.79 363.69,161.23 364.22,161.65 364.74,160.78 365.26,161.46 365.79,160.77 366.31,160.92 366.83,160.6 367.36,160.88 367.88,160.97 368.4,161.66 368.92,161.64 369.45,160.7 369.97,160.83 370.49,161.58 371.02,160.67 371.54,160.81 372.06,160.94 372.58,160.53 373.11,160.7 373.63,160.84 374.15,160.82 374.68,161.5 375.2,160.65 375.72,160.57 376.25,161.4 376.77,160.84 377.29,161.29 377.81,161.03 378.34,161.19 378.86,160.62 379.38,160.41 379.91,161.13 380.43,160.77 380.95,160.86 381.48,160.99 382,161.07 382.52,160.49 383.04,160.58 383.57,161.23 384.09,160.75 384.61,160.45 385.14,160.85 385.66,160.39 386.18,160.99 386.71,160.1 387.23,161.03 387.75,160.71 388.27,160.44 388.8,161.13 389.32,160.31 389.84,160.27 390.37,160.05 390.89,160.61 391.41,160.85 391.94,160.74 392.46,160.41 392.98,160.87 393.5,160.02 394.03,160.25 394.55,160.64 395.07,161.01 395.6,160.6 396.12,160.66 396.64,160.74 397.17,160.27 397.69,160.92 398.21,160.67 398.74,160.17 399.26,160.22 399.78,160.7 400.3,160.14 400.83,159.94 401.35,160.75 401.87,160.33 402.4,160.3 402.92,160.47 403.44,160.73 403.96,159.8 404.49,160.03 405.01,159.69 405.53,160.09 406.06,160.19 406.58,160.6 407.1,160.36 407.63,160.24 408.15,160.02 408.67,160.21 409.19,159.84 409.72,160.51 410.24,160.43 410.76,160.48 411.29,159.64 411.81,160.25 412.33,160.34 412.86,160.02 413.38,160.49 413.9,160.47 414.43,160.27 414.95,160.36 415.47,160.14 415.99,160.4 416.52,159.49 417.04,160.16 417.56,160.15 418.09,160.03 418.61,159.61 419.13,159.35 419.65,159.98 420.18,160.23 420.7,159.56 421.22,159.47 421.75,159.47 422.27,159.31 422.79,159.99 423.32,160.34 423.84,160.12 424.36,159.57 424.88,159.97 425.41,159.2 425.93,160.11 426.45,159.48 426.98,159.08 427.5,159.82 428.02,159.22 428.55,159.37 429.07,159.1 429.59,159.55 430.12,159.67 430.64,159.96 431.16,159.03 431.68,159.96 432.21,159.09 432.73,159.21 433.25,159.68 433.78,159.32 434.3,159.3 434.82,159.57 435.35,159.14 435.87,159.82 436.39,159.1 436.91,159.85 437.44,159.8 437.96,159.46 438.48,158.84 439.01,159.72 439.53,158.81 440.05,159.37 440.57,159.26 441.1,158.81 441.62,159.48 442.14,159.58 442.67,159.4 443.19,159.17 443.71,159.29 444.24,159.37 444.76,158.92 445.28,159.68 445.81,159.82 446.33,159.58 446.85,159.75 447.37,158.98 447.9,159.76 448.42,158.65 448.94,159.12 449.47,158.7 449.99,159.07 450.51,159.33 451.03,159.35 451.56,159.03 452.08,158.88 452.6,158.69 453.13,158.93 453.65,158.77 454.17,158.65 454.7,159.29 455.22,159.01 455.74,158.91 456.26,158.61 456.79,159.2 457.31,158.58 457.83,158.65 458.36,158.99 458.88,159.15 459.4,159.46 459.93,159.18 460.45,159.41 460.97,159.36 461.5,159.11 462.02,159.09 462.54,158.29 463.06,158.45 463.59,158.21 464.11,159.22 464.63,159.03 465.16,158.91 465.68,158.46 466.2,158.56 466.73,158.31 467.25,158.86 467.77,159.28 468.29,158.45 468.82,158.12 469.34,158.26 469.86,158.47 470.39,159.11 470.91,158.98 471.43,158.55 471.96,158.11 472.48,158.11 473,158.15 473.52,158.88 474.05,158.5 474.57,159.12 475.09,159.01 475.62,158.86 476.14,158.46 476.66,158.86 477.19,158.02 477.71,157.98 478.23,158.51 478.75,158.43 479.28,158.06 479.8,158.1" fill="none" stroke="#9a2fd6" stroke-width="2.4" stroke-linejoin="round"/>
<polyline points="322.9,163.73 323.42,164.99 323.95,164.51 324.47,164.72 324.99,164.61 325.51,163.58 326.04,163.9 326.56,163.18 327.08,163.71 327.61,163.6 328.13,162.31 328.65,161.96 329.18,162.13 329.7,162.57 330.22,162.09 330.75,161.35 331.27,162.51 331.79,162.29 332.31,161.63 332.84,160.81 333.36,162.02 333.88,161.31 334.41,160.42 334.93,160.68 335.45,161.02 335.97,161.3 336.5,160.52 337.02,160.63 337.54,159.8 338.07,159.72 338.59,160.64 339.11,159.67 339.64,159.09 340.16,159.74 340.68,158.86 341.2,158.85 341.73,159.12 342.25,159.2 342.77,159.15 343.3,159.14 343.82,158.58 344.34,157.86 344.87,158.79 345.39,157.59 345.91,158.13 346.44,157.9 346.96,158.21 347.48,158.15 348,157.27 348.53,157.81 349.05,157.76 349.57,157.29 350.1,156.64 350.62,157.75 351.14,157.14 351.66,156.17 352.19,156.33 352.71,157.42 353.23,156.09 353.76,156.24 354.28,156.76 354.8,156.71 355.33,156.3 355.85,156.36 356.37,155.13 356.89,155.11 357.42,156.41 357.94,156.03 358.46,154.7 358.99,154.61 359.51,154.81 360.03,155.81 360.56,154.57 361.08,155.19 361.6,155.51 362.12,154.94 362.65,155.29 363.17,154.14 363.69,153.86 364.22,153.55 364.74,154.63 365.26,153.49 365.79,154.79 366.31,154.27 366.83,153.34 367.36,154.23 367.88,153.11 368.4,153.58 368.92,152.83 369.45,153.83 369.97,153.9 370.49,153.86 371.02,152.3 371.54,153.57 372.06,153.01 372.58,153.35 373.11,152.75 373.63,152.85 374.15,152.72 374.68,152.97 375.2,151.73 375.72,151.6 376.25,152.3 376.77,151.81 377.29,151.9 377.81,151.19 378.34,152.29 378.86,151.06 379.38,152.27 379.91,152.16 380.43,151.51 380.95,150.89 381.48,151.66 382,150.87 382.52,151.15 383.04,150.56 383.57,151.87 384.09,151.11 384.61,150.72 385.14,150.23 385.66,151.18 386.18,151.29 386.71,151.22 387.23,149.95 387.75,150.3 388.27,150.13 388.8,150.79 389.32,149.73 389.84,150.4 390.37,150.92 390.89,150.52 391.41,149.23 391.94,149.27 392.46,149.26 392.98,150.12 393.5,149.9 394.03,149.71 394.55,149.54 395.07,149.4 395.6,149.66 396.12,149.65 396.64,150.01 397.17,149.66 397.69,149.69 398.21,149.82 398.74,149.63 399.26,149.38 399.78,148.22 400.3,149.19 400.83,149.4 401.35,148.67 401.87,149.33 402.4,148.15 402.92,149.31 403.44,148.45 403.96,148.81 404.49,148.03 405.01,148.05 405.53,148.06 406.06,147.97 406.58,147.54 407.1,148.04 407.63,148.85 408.15,148.27 408.67,148.66 409.19,148.33 409.72,148.4 410.24,148.59 410.76,148.15 411.29,147.33 411.81,147.24 412.33,147.45 412.86,146.77 413.38,147.05 413.9,148.05 414.43,148.05 414.95,147.05 415.47,147.71 415.99,147.66 416.52,147.8 417.04,147.6 417.56,147.13 418.09,146.39 418.61,147.5 419.13,146.63 419.65,147.08 420.18,146.62 420.7,146.84 421.22,147.48 421.75,146.15 422.27,146.69 422.79,146.83 423.32,146.61 423.84,147.2 424.36,146.31 424.88,147.07 425.41,146.67 425.93,147.07 426.45,145.62 426.98,145.77 427.5,145.85 428.02,146.8 428.55,145.32 429.07,145.68 429.59,146.36 430.12,146.76 430.64,145.41 431.16,145.79 431.68,146.15 432.21,146.11 432.73,146.16 433.25,146.13 433.78,145.28 434.3,145.26 434.82,144.85 435.35,145.87 435.87,145.06 436.39,145.1 436.91,146.19 437.44,145.64 437.96,145.52 438.48,145.58 439.01,145.45 439.53,145.57 440.05,144.91 440.57,144.49 441.1,144.45 441.62,144.33 442.14,144.85 442.67,144.46 443.19,144.38 443.71,144.96 444.24,145.68 444.76,145.19 445.28,144.5 445.81,145.26 446.33,144.28 446.85,144.12 447.37,144.41 447.9,144.54 448.42,144.96 448.94,144.53 449.47,144.95 449.99,143.91 450.51,145.21 451.03,144.24 451.56,144.99 452.08,143.68 452.6,144.92 453.13,143.92 453.65,144.9 454.17,144.78 454.7,144.54 455.22,143.88 455.74,143.42 456.26,143.68 456.79,144.79 457.31,143.57 457.83,144.34 458.36,144.2 458.88,144.29 459.4,143.49 459.93,143.4 460.45,143.3 460.97,144.69 461.5,143.7 462.02,144.1 462.54,143.94 463.06,143.36 463.59,143.08 464.11,142.97 464.63,144.28 465.16,143.1 465.68,144.4 466.2,143.42 466.73,143.97 467.25,143.01 467.77,144.02 468.29,143.13 468.82,143.29 469.34,143.52 469.86,142.83 470.39,143.03 470.91,143.88 471.43,143.04 471.96,143.16 472.48,143.75 473,142.86 473.52,142.79 474.05,142.81 474.57,143.05 475.09,142.99 475.62,143.41 476.14,143.12 476.66,143.73 477.19,142.39 477.71,143.35 478.23,143.61 478.75,142.62 479.28,142.27 479.8,142.9" fill="none" stroke="#0ea8ee" stroke-width="3.0" stroke-linejoin="round"/>
<polyline points="490.4,181.15 490.9,181.88 491.4,182.4 491.9,181.01 492.4,181.03 492.89,181.79 493.39,181.08 493.89,181.17 494.39,181.6 494.89,180.86 495.39,180.72 495.89,181.33 496.39,181.53 496.89,182.53 497.38,181.65 497.88,180.56 498.38,180.86 498.88,181.97 499.38,181.54 499.88,182.18 500.38,182.35 500.88,182.09 501.38,180.41 501.87,182.21 502.37,181.25 502.87,180.59 503.37,180.41 503.87,181.9 504.37,180.43 504.87,180.12 505.37,180.48 505.87,181.9 506.36,180.85 506.86,181.41 507.36,179.93 507.86,180.73 508.36,180.4 508.86,180.12 509.36,181.09 509.86,180.39 510.36,179.83 510.85,181.7 511.35,180.56 511.85,179.86 512.35,179.46 512.85,180.84 513.35,180.5 513.85,179.39 514.35,180.33 514.85,180.9 515.34,180.42 515.84,179.71 516.34,180.26 516.84,180.46 517.34,180.53 517.84,179.39 518.34,180.8 518.84,181.08 519.34,180.6 519.83,180.82 520.33,179.71 520.83,180.85 521.33,179.23 521.83,179.3 522.33,180.08 522.83,180.72 523.33,178.88 523.83,179.14 524.32,178.71 524.82,179.57 525.32,178.88 525.82,178.95 526.32,180.15 526.82,179.75 527.32,180.5 527.82,179.28 528.32,179.86 528.81,178.36 529.31,180.39 529.81,178.78 530.31,179.28 530.81,179.33 531.31,180.25 531.81,179.22 532.31,180.28 532.81,179.43 533.3,178.51 533.8,179.83 534.3,178.41 534.8,180.13 535.3,178.9 535.8,178.36 536.3,179.95 536.8,178.51 537.3,178.66 537.79,178.49 538.29,179.17 538.79,177.72 539.29,178.46 539.79,177.96 540.29,179.39 540.79,177.53 541.29,178.84 541.79,178.03 542.28,178.43 542.78,178.64 543.28,178.93 543.78,177.64 544.28,177.83 544.78,177.53 545.28,179.35 545.78,177.53 546.28,177.47 546.77,178.28 547.27,178.38 547.77,179.02 548.27,177.16 548.77,177.52 549.27,177.34 549.77,178.22 550.27,177.9 550.77,177.77 551.26,178.79 551.76,178.26 552.26,178.66 552.76,178.84 553.26,177.29 553.76,178.74 554.26,177.53 554.76,176.71 555.26,178.58 555.75,176.76 556.25,176.54 556.75,177.1 557.25,177.07 557.75,178.53 558.25,178.28 558.75,177.26 559.25,177.46 559.75,178.13 560.24,178.01 560.74,177.64 561.24,177.29 561.74,176.39 562.24,176.64 562.74,177.51 563.24,177.32 563.74,177.76 564.24,177.94 564.73,178.05 565.23,176.32 565.73,176.03 566.23,177.81 566.73,177.05 567.23,176.17 567.73,177.26 568.23,176.26 568.73,176.19 569.22,176.44 569.72,176.75 570.22,177.06 570.72,175.69 571.22,177.13 571.72,176.84 572.22,176.47 572.72,176.88 573.22,177.13 573.71,175.35 574.21,176.35 574.71,176.76 575.21,176.79 575.71,176.62 576.21,175.56 576.71,177.24 577.21,176.83 577.71,175.58 578.2,175.98 578.7,177.11 579.2,175.42 579.7,175.83 580.2,177.02" fill="none" stroke="#f22aa8" stroke-width="3.2" stroke-linejoin="round"/>
<polyline points="490.4,157.08 490.9,156.26 491.4,156.84 491.9,156.37 492.4,156.72 492.89,156.82 493.39,156.03 493.89,156.13 494.39,156.1 494.89,156.14 495.39,155.84 495.89,155.94 496.39,156.25 496.89,156.24 497.38,155.81 497.88,156.4 498.38,156.81 498.88,156.35 499.38,156.07 499.88,156.47 500.38,156.12 500.88,155.79 501.38,156.14 501.87,155.56 502.37,156.33 502.87,155.69 503.37,155.92 503.87,156.61 504.37,156.36 504.87,156.42 505.37,156.17 505.87,156.14 506.36,156.21 506.86,156.5 507.36,155.56 507.86,156.22 508.36,155.64 508.86,155.57 509.36,156.23 509.86,155.94 510.36,156.22 510.85,156.23 511.35,155.87 511.85,155.38 512.35,155.14 512.85,155.74 513.35,155.95 513.85,155.39 514.35,155.12 514.85,155.03 515.34,155.21 515.84,155.82 516.34,154.96 516.84,155.22 517.34,155.24 517.84,155.75 518.34,156.06 518.84,154.88 519.34,154.98 519.83,155.94 520.33,155.96 520.83,154.96 521.33,155.16 521.83,155.37 522.33,155.1 522.83,155.2 523.33,155.25 523.83,154.97 524.32,154.71 524.82,154.72 525.32,154.79 525.82,154.69 526.32,155.31 526.82,155.38 527.32,154.84 527.82,155.45 528.32,155.35 528.81,154.87 529.31,155.03 529.81,154.65 530.31,155.51 530.81,155.05 531.31,154.42 531.81,154.52 532.31,155.15 532.81,154.76 533.3,155.14 533.8,154.54 534.3,155.2 534.8,155.18 535.3,154.31 535.8,154.88 536.3,154.39 536.8,154.99 537.3,155.08 537.79,155.05 538.29,154.36 538.79,154.17 539.29,154.84 539.79,154.7 540.29,154.17 540.79,154.21 541.29,154.66 541.79,154.07 542.28,154.68 542.78,154.19 543.28,154.19 543.78,154.37 544.28,154.48 544.78,154.69 545.28,153.84 545.78,154.65 546.28,154.03 546.77,154.09 547.27,154.49 547.77,154.53 548.27,154.42 548.77,154.74 549.27,153.89 549.77,153.99 550.27,154.4 550.77,153.89 551.26,153.75 551.76,153.81 552.26,154.45 552.76,154.49 553.26,154.34 553.76,154.61 554.26,154.39 554.76,153.79 555.26,153.78 555.75,154.25 556.25,153.43 556.75,154.07 557.25,153.43 557.75,153.36 558.25,153.9 558.75,153.44 559.25,154.36 559.75,154.27 560.24,153.75 560.74,153.42 561.24,153.3 561.74,153.75 562.24,153.75 562.74,153.54 563.24,153.94 563.74,153.7 564.24,153.97 564.73,153.15 565.23,153.08 565.73,153.44 566.23,153.54 566.73,153.24 567.23,153.72 567.73,153.17 568.23,153.26 568.73,153.43 569.22,153.69 569.72,153.74 570.22,153.25 570.72,153.32 571.22,153.87 571.72,153.86 572.22,153.46 572.72,152.83 573.22,153.23 573.71,153.42 574.21,152.97 574.71,152.66 575.21,153.78 575.71,153.67 576.21,152.71 576.71,153.1 577.21,153.26 577.71,152.86 578.2,152.56 578.7,153.36 579.2,153.36 579.7,152.94 580.2,152.5" fill="none" stroke="#9a2fd6" stroke-width="2.6" stroke-linejoin="round"/>
<polyline points="490.4,142.45 490.9,142.03 491.4,143.24 491.9,141.96 492.4,142.28 492.89,142.95 493.39,142.06 493.89,142.01 494.39,141.95 494.89,142.08 495.39,142.59 495.89,143.01 496.39,142.07 496.89,142.07 497.38,142.89 497.88,142.41 498.38,142.28 498.88,141.98 499.38,142.14 499.88,143.15 500.38,141.95 500.88,142.15 501.38,142.81 501.87,143.02 502.37,143.03 502.87,142.42 503.37,143.09 503.87,142.6 504.37,142.15 504.87,142.39 505.37,142.74 505.87,142.76 506.36,141.9 506.86,141.99 507.36,143.05 507.86,141.86 508.36,142.84 508.86,142.17 509.36,142.04 509.86,142.04 510.36,142.33 510.85,143.06 511.35,141.87 511.85,142.86 512.35,142.11 512.85,141.89 513.35,142.69 513.85,142.12 514.35,141.9 514.85,142.21 515.34,142.77 515.84,142.82 516.34,142.42 516.84,141.62 517.34,142.67 517.84,142.44 518.34,142.85 518.84,142.92 519.34,142.04 519.83,142.76 520.33,142.71 520.83,141.93 521.33,142.07 521.83,142.07 522.33,142.04 522.83,142.07 523.33,141.69 523.83,141.85 524.32,142.8 524.82,142.09 525.32,142.4 525.82,142.75 526.32,142.56 526.82,141.84 527.32,142.78 527.82,142.61 528.32,142.86 528.81,142.49 529.31,142.52 529.81,142.6 530.31,141.81 530.81,142.37 531.31,141.98 531.81,142.61 532.31,141.62 532.81,142.18 533.3,141.89 533.8,142.57 534.3,141.89 534.8,142.59 535.3,142.59 535.8,142.62 536.3,141.58 536.8,142.7 537.3,142.42 537.79,142.32 538.29,142.28 538.79,141.43 539.29,142.57 539.79,142.12 540.29,141.98 540.79,141.81 541.29,142.43 541.79,142.42 542.28,142.54 542.78,141.62 543.28,141.79 543.78,141.65 544.28,141.44 544.78,141.75 545.28,141.33 545.78,142.4 546.28,141.6 546.77,141.37 547.27,141.36 547.77,142.3 548.27,141.53 548.77,141.9 549.27,141.81 549.77,142.36 550.27,142.57 550.77,141.66 551.26,142.11 551.76,142.47 552.26,141.87 552.76,142.47 553.26,142.23 553.76,141.63 554.26,142.41 554.76,141.99 555.26,141.33 555.75,141.99 556.25,142.33 556.75,141.89 557.25,141.83 557.75,141.73 558.25,142.38 558.75,142.07 559.25,141.42 559.75,141.64 560.24,141.63 560.74,142.46 561.24,142.09 561.74,141.28 562.24,142.38 562.74,141.14 563.24,141.92 563.74,141.69 564.24,142.08 564.73,141.67 565.23,141.2 565.73,141.79 566.23,142.2 566.73,142.15 567.23,141.54 567.73,141.35 568.23,142.08 568.73,142.15 569.22,141.33 569.72,142.25 570.22,142.4 570.72,141.61 571.22,141.53 571.72,141.99 572.22,142.29 572.72,141.27 573.22,141.4 573.71,141.43 574.21,141.99 574.71,141.22 575.21,141.72 575.71,141.65 576.21,141.88 576.71,141.14 577.21,142.27 577.71,142.33 578.2,141.71 578.7,142.03 579.2,141.17 579.7,142.18 580.2,141.67" fill="none" stroke="#0ea8ee" stroke-width="3.6" stroke-linejoin="round"/>
<line x1="111.2" y1="139.34" x2="580.2" y2="139.34" stroke="#000" stroke-width="1.1" stroke-dasharray="4.3,2.5"/>
<line x1="111.2" y1="178.19" x2="580.2" y2="178.19" stroke="#000" stroke-width="1.1" stroke-dasharray="1.1,1.1"/>
<line x1="127.88" y1="116.5" x2="127.88" y2="363.1" stroke="#8c8c8c" stroke-width="1.5" stroke-dasharray="5,3"/>
<line x1="178.2" y1="116.5" x2="178.2" y2="363.1" stroke="#8c8c8c" stroke-width="1.3"/>
<line x1="245.3" y1="116.5" x2="245.3" y2="363.1" stroke="#8c8c8c" stroke-width="1.4" stroke-dasharray="1.3,2.2"/>
<line x1="411.6" y1="116.5" x2="411.6" y2="363.1" stroke="#777" stroke-width="1.1" stroke-dasharray="4,1.5,1,1.5"/>
<polyline points="110.9,363.2 112.7,334.7 116.4,323.5 119.2,310.4 123,293.6 126.7,288.9 130.4,280.5 135.1,269.3 140.7,260.8 147.3,251.5 152.9,247.8 158.5,243 165.8,230.2 171.7,226.7 177.5,227.9 181,225.5 185.7,220.9 192.7,218.5 198.5,215 205.5,215 210.2,212.7 216.1,210.4 221.9,209.2 230.1,208 234.7,205.7 241.8,205.7 246.4,204.1 253.4,203.4 262.8,202.2 269.8,202.2 274.5,202.9 279.1,201.5 286.1,202.2 290.8,201.7 295.5,202.9 300.2,201 306,202.7 311.8,199.9" fill="none" stroke="#f03cb4" stroke-width="1.9" stroke-linejoin="round"/>
<polyline points="110.9,363.2 112.6,330 114.5,310.4 118.3,310.4 120.1,313.2 123,302.9 126.7,294.5 130.4,289.8 135.1,280.5 139.8,272.1 145.4,264.6 149.1,259.9 154.7,256.2 160.3,248.7 167,243.1 174,238.4 177.5,239.6 183.4,233.7 188,226.7 191.5,229.1 195,226.7 198.5,227.9 202,218.5 207.9,217.4 212.6,211.5 218.4,215 223.1,210.4 230.1,208 234.7,202.2 238.3,203.4 241.8,198.7 246.4,198.2 251.1,199.9 254.6,194.5 260.4,195.2 267.5,192.8 274.5,191.2 281.5,191.2 287.3,191.7 292,188.2 300.2,188.9 306,186.5 311.8,189.3" fill="none" stroke="#12aef0" stroke-width="1.9" stroke-linejoin="round"/>
<polyline points="110.9,363.2 112.5,338 114.5,312.2 116.5,300.5 118.3,291.7 121.1,276.7 123.9,263.6 126.9,250.4 130.2,237.1 133,224.7 135.7,215 139.2,205.3 142.7,198.4 146.8,192.9 151,189.4 156.5,186.7 160.6,185.3 164.1,181.1 167.6,183.2 170.3,181.8 174.5,180.7 178.6,179.7 184.2,178.4 188.2,176.6 194.3,174.5 199.4,176.2 208.6,175.5 214.7,174.1 220.9,174.9 231.1,172.9 235.2,172.9 238.2,175.5 241.3,173.5 245.4,172.9 257.7,172.5 263.8,171.1 267.9,172.5 274,172.9 278.1,170.4 284.2,171.5 287.3,170.8 291.4,172.5 294.4,171.5 300.6,172.5 307.7,170.4 311.8,171.1" fill="none" stroke="#9a2fd6" stroke-width="1.9" stroke-linejoin="round"/>
<path d="M111.2,363.1 V116.5 H580.2 V363.1" fill="none" stroke="#000" stroke-width="1.3"/>
<line x1="108.0" y1="363.1" x2="312.3" y2="363.1" stroke="#222" stroke-width="1.4"/>
<line x1="323.2" y1="363.1" x2="479.5" y2="363.1" stroke="#222" stroke-width="1.4"/>
<line x1="490.5" y1="363.1" x2="580.2" y2="363.1" stroke="#222" stroke-width="1.4"/>
<line x1="312.3" y1="361.1" x2="312.3" y2="365.1" stroke="#222" stroke-width="1.2"/>
<line x1="323.2" y1="361.1" x2="323.2" y2="365.1" stroke="#222" stroke-width="1.2"/>
<line x1="479.5" y1="361.1" x2="479.5" y2="365.1" stroke="#222" stroke-width="1.2"/>
<line x1="490.5" y1="361.1" x2="490.5" y2="365.1" stroke="#222" stroke-width="1.2"/>
<line x1="108.0" y1="116.52" x2="111.2" y2="116.52" stroke="#000" stroke-width="1.2"/>
<line x1="108.0" y1="145.5" x2="111.2" y2="145.5" stroke="#000" stroke-width="1.2"/>
<line x1="108.0" y1="178.19" x2="111.2" y2="178.19" stroke="#000" stroke-width="1.2"/>
<line x1="108.0" y1="239.86" x2="111.2" y2="239.86" stroke="#000" stroke-width="1.2"/>
<line x1="108.0" y1="301.53" x2="111.2" y2="301.53" stroke="#000" stroke-width="1.2"/>
<line x1="580.2" y1="145.5" x2="584.2" y2="145.5" stroke="#222" stroke-width="1.2"/>
<line x1="111.1" y1="363.1" x2="111.1" y2="366.1" stroke="#222" stroke-width="1.2"/>
<line x1="178.2" y1="363.1" x2="178.2" y2="366.1" stroke="#222" stroke-width="1.2"/>
<line x1="245.3" y1="363.1" x2="245.3" y2="366.1" stroke="#222" stroke-width="1.2"/>
<line x1="312.4" y1="363.1" x2="312.4" y2="366.1" stroke="#222" stroke-width="1.2"/>
<line x1="144.65" y1="363.1" x2="144.65" y2="364.7" stroke="#222" stroke-width="1.2"/>
<line x1="211.75" y1="363.1" x2="211.75" y2="364.7" stroke="#222" stroke-width="1.2"/>
<line x1="278.85" y1="363.1" x2="278.85" y2="364.7" stroke="#222" stroke-width="1.2"/>
<line x1="344.3" y1="363.1" x2="344.3" y2="365.9" stroke="#222" stroke-width="1.2"/>
<line x1="398.05" y1="363.1" x2="398.05" y2="365.9" stroke="#222" stroke-width="1.2"/>
<line x1="451.8" y1="363.1" x2="451.8" y2="365.9" stroke="#222" stroke-width="1.2"/>
<line x1="371.18" y1="363.1" x2="371.18" y2="364.9" stroke="#222" stroke-width="1.2"/>
<line x1="424.93" y1="363.1" x2="424.93" y2="364.9" stroke="#222" stroke-width="1.2"/>
<line x1="528.7" y1="363.1" x2="528.7" y2="365.9" stroke="#222" stroke-width="1.2"/>
<line x1="580.2" y1="363.1" x2="580.2" y2="365.9" stroke="#222" stroke-width="1.2"/>
<line x1="502.95" y1="363.1" x2="502.95" y2="364.9" stroke="#222" stroke-width="1.2"/>
<line x1="554.45" y1="363.1" x2="554.45" y2="364.9" stroke="#222" stroke-width="1.2"/>
<text x="102" y="122.72" font-size="13" text-anchor="end">40</text>
<text x="102" y="184.39" font-size="13" text-anchor="end">30</text>
<text x="102" y="246.06" font-size="13" text-anchor="end">20</text>
<text x="102" y="307.73" font-size="13" text-anchor="end">10</text>
<text x="103.6" y="148.9" font-size="11.8" text-anchor="end">35.3</text>
<line x1="111.2" y1="139.34" x2="113.8" y2="139.34" stroke="#000" stroke-width="1.2"/>
<text x="110.5" y="383.6" font-size="13" text-anchor="middle">0</text>
<text x="177.7" y="383.6" font-size="13" text-anchor="middle">2</text>
<text x="244.8" y="383.6" font-size="13" text-anchor="middle">4</text>
<text x="311.5" y="383.6" font-size="13" text-anchor="middle">6</text>
<text x="336.9" y="383.6" font-size="13" text-anchor="middle">100</text>
<text x="395.2" y="383.6" font-size="13" text-anchor="middle">200</text>
<text x="449.2" y="383.6" font-size="13" text-anchor="middle">300</text>
<text x="525.8" y="383.6" font-size="13" text-anchor="middle">700</text>
<text x="576.7" y="383.6" font-size="13" text-anchor="middle">900</text>
<text x="341" y="406.3" font-size="13.5" text-anchor="middle">Time (s)</text>
<text x="67.8" y="240.5" font-size="13.5" text-anchor="middle" transform="rotate(-90 67.8 240.5)" dy="4.6"><tspan font-style="italic">θ</tspan> (°)</text>
<text x="60" y="118.5" font-size="18" font-weight="bold">b</text>
<text x="133.4" y="351.3" fill="#a0a0a0" font-size="17" font-style="italic">t</text><text x="137.0" y="356.90000000000003" fill="#a0a0a0" font-size="10">fast</text>
<text x="183.6" y="351.3" fill="#a0a0a0" font-size="17" font-style="italic">t</text><text x="187.2" y="356.90000000000003" fill="#a0a0a0" font-size="10">drop</text>
<text x="250.0" y="351.3" fill="#a0a0a0" font-size="17" font-style="italic">t</text><text x="253.6" y="356.90000000000003" fill="#a0a0a0" font-size="10">slow</text>
<text x="382.0" y="351.3" fill="#a0a0a0" font-size="17" font-style="italic">t</text><text x="385.6" y="356.90000000000003" fill="#a0a0a0" font-size="10">layer</text>
<line x1="513" y1="127" x2="527" y2="127" stroke="#000" stroke-width="1.1" stroke-dasharray="3,2"/>
<text x="533.2" y="131.4" font-size="12.6">36.3°</text>
<line x1="416.6" y1="307.7" x2="431" y2="307.7" stroke="#12aef0" stroke-width="1.8"/>
<text x="436.6" y="311.9" font-size="12.9"><tspan font-style="italic">φ</tspan><tspan font-size="7.6" dy="2.4">SIL</tspan><tspan dy="-2.4" dx="0.2"> = 0.60 ; </tspan><tspan font-style="italic">x</tspan><tspan font-size="7.6" dy="2.8">POPC</tspan><tspan dy="-2.8" dx="0.2"> = 0.00</tspan></text>
<line x1="416.6" y1="328.6" x2="431" y2="328.6" stroke="#9a2fd6" stroke-width="1.8"/>
<text x="436.6" y="332.8" font-size="12.9"><tspan font-style="italic">φ</tspan><tspan font-size="7.6" dy="2.4">SIL</tspan><tspan dy="-2.4" dx="0.2"> = 0.55 ; </tspan><tspan font-style="italic">x</tspan><tspan font-size="7.6" dy="2.8">POPC</tspan><tspan dy="-2.8" dx="0.2"> = 0.13</tspan></text>
<line x1="416.6" y1="349.6" x2="431" y2="349.6" stroke="#f03cb4" stroke-width="1.8"/>
<text x="436.6" y="353.8" font-size="12.9"><tspan font-style="italic">φ</tspan><tspan font-size="7.6" dy="2.4">SIL</tspan><tspan dy="-2.4" dx="0.2"> = 0.52 ; </tspan><tspan font-style="italic">x</tspan><tspan font-size="7.6" dy="2.8">POPC</tspan><tspan dy="-2.8" dx="0.2"> = 0.20</tspan></text>
</g>
<g id="panelc">
<rect x="53.7" y="559.73" width="19.2" height="116.67" fill="#66ecfc" stroke="#1ab4ea" stroke-width="1.3"/>
<path d="M63.3,541.2 V576.9 M60.599999999999994,541.2 h5.4 M60.599999999999994,576.9 h5.4" stroke="#1ab4ea" stroke-width="1.3" fill="none"/>
<rect x="83.1" y="487.85" width="19.8" height="188.55" fill="#c884fc" stroke="#a345e2" stroke-width="1.3"/>
<path d="M93.0,462.0 V513.0 M90.3,462.0 h5.4 M90.3,513.0 h5.4" stroke="#a345e2" stroke-width="1.3" fill="none"/>
<rect x="112.9" y="572.78" width="19.7" height="103.62" fill="#ffaade" stroke="#f044b2" stroke-width="1.3"/>
<path d="M122.8,541.6 V602.2 M120.1,541.6 h5.4 M120.1,602.2 h5.4" stroke="#f044b2" stroke-width="1.3" fill="none"/>
<rect x="48.4" y="449.4" width="89.1" height="227" fill="none" stroke="#000" stroke-width="1.2"/>
<line x1="46.199999999999996" y1="676.4" x2="48.4" y2="676.4" stroke="#000" stroke-width="1.1"/>
<text x="39.8" y="680.3" font-size="11" text-anchor="end">0.0</text>
<line x1="46.199999999999996" y1="600.74" x2="48.4" y2="600.74" stroke="#000" stroke-width="1.1"/>
<text x="39.8" y="604.64" font-size="11" text-anchor="end">0.2</text>
<line x1="46.199999999999996" y1="525.08" x2="48.4" y2="525.08" stroke="#000" stroke-width="1.1"/>
<text x="39.8" y="528.98" font-size="11" text-anchor="end">0.4</text>
<line x1="46.199999999999996" y1="449.42" x2="48.4" y2="449.42" stroke="#000" stroke-width="1.1"/>
<text x="39.8" y="453.32" font-size="11" text-anchor="end">0.6</text>
<line x1="46.9" y1="638.57" x2="48.4" y2="638.57" stroke="#000" stroke-width="1.1"/>
<line x1="46.9" y1="562.91" x2="48.4" y2="562.91" stroke="#000" stroke-width="1.1"/>
<line x1="46.9" y1="487.25" x2="48.4" y2="487.25" stroke="#000" stroke-width="1.1"/>
<text x="0" y="0" font-size="14.5" text-anchor="middle" transform="translate(93.1 462.6) scale(1.05 0.78)">**</text>
<text x="0" y="0" font-size="13.8" text-anchor="middle" transform="translate(11.3 563.1) rotate(-90)">Hexagonal fraction</text>
<text x="0.3" y="439.3" font-size="17.5" font-weight="bold">c</text>
</g>
<g id="paneld">
<line x1="221.85" y1="449.5" x2="221.85" y2="676.2" stroke="#8c8c8c" stroke-width="1.2" stroke-dasharray="1.2,1.4"/>
<line x1="249.5" y1="449.5" x2="249.5" y2="676.2" stroke="#8c8c8c" stroke-width="1.2"/>
<line x1="415.4" y1="449.5" x2="415.4" y2="676.2" stroke="#8c8c8c" stroke-width="1.2" stroke-dasharray="4,2.5"/>
<path d="M221.85,521.4 V462.1 H248.5 v3 M250.5,465.1 v-3 H415.4 V550.4" fill="none" stroke="#c79cf0" stroke-width="1.2"/>
<text x="0" y="0" font-size="14.5" text-anchor="middle" transform="translate(235.1 464.6) scale(1.05 0.78)">*</text>
<text x="0" y="0" font-size="14.5" text-anchor="middle" transform="translate(332.6 465.6) scale(1.05 0.78)">***</text>
<path d="M221.85,552.78 L249.5,491.03 L415.4,571.14" fill="none" stroke="#a03ee0" stroke-width="1.2"/>
<path d="M221.85,610.82 L249.5,571.52 L415.4,594.57" fill="none" stroke="#f03cb4" stroke-width="1.2"/>
<path d="M221.85,613.85 L249.5,558.67 L415.4,566.61" fill="none" stroke="#1ab4f0" stroke-width="1.2"/>
<path d="M221.85,521.4 V584.1 M219.45,521.4 h4.8 M219.45,584.1 h4.8" stroke="#a03ee0" stroke-width="1.5" fill="none"/>
<path d="M249.5,468.4 V513.4 M247.1,468.4 h4.8 M247.1,513.4 h4.8" stroke="#a03ee0" stroke-width="1.5" fill="none"/>
<path d="M415.4,550.4 V581.8 M413,550.4 h4.8 M413,581.8 h4.8" stroke="#a03ee0" stroke-width="1.5" fill="none"/>
<path d="M221.85,592.7 V630.0 M219.45,592.7 h4.8 M219.45,630.0 h4.8" stroke="#f03cb4" stroke-width="1.5" fill="none"/>
<path d="M249.5,541.5 V601.7 M247.1,541.5 h4.8 M247.1,601.7 h4.8" stroke="#f03cb4" stroke-width="1.5" fill="none"/>
<path d="M415.4,580.0 V607.1 M413,580.0 h4.8 M413,607.1 h4.8" stroke="#f03cb4" stroke-width="1.5" fill="none"/>
<path d="M221.85,598.6 V629.6 M219.45,598.6 h4.8 M219.45,629.6 h4.8" stroke="#1ab4f0" stroke-width="1.5" fill="none"/>
<path d="M249.5,541.0 V576.5 M247.1,541.0 h4.8 M247.1,576.5 h4.8" stroke="#1ab4f0" stroke-width="1.5" fill="none"/>
<path d="M415.4,545.8 V588.0 M413,545.8 h4.8 M413,588.0 h4.8" stroke="#1ab4f0" stroke-width="1.5" fill="none"/>
<circle cx="221.85" cy="552.78" r="3.0" fill="#fff" stroke="#a03ee0" stroke-width="1.9"/>
<circle cx="249.5" cy="491.03" r="3.0" fill="#fff" stroke="#a03ee0" stroke-width="1.9"/>
<circle cx="415.4" cy="571.14" r="3.0" fill="#fff" stroke="#a03ee0" stroke-width="1.9"/>
<circle cx="221.85" cy="610.82" r="3.0" fill="#fff" stroke="#f03cb4" stroke-width="1.9"/>
<circle cx="249.5" cy="571.52" r="3.0" fill="#fff" stroke="#f03cb4" stroke-width="1.9"/>
<circle cx="415.4" cy="594.57" r="3.0" fill="#fff" stroke="#f03cb4" stroke-width="1.9"/>
<circle cx="221.85" cy="613.85" r="3.0" fill="#fff" stroke="#1ab4f0" stroke-width="1.9"/>
<circle cx="249.5" cy="558.67" r="3.0" fill="#fff" stroke="#1ab4f0" stroke-width="1.9"/>
<circle cx="415.4" cy="566.61" r="3.0" fill="#fff" stroke="#1ab4f0" stroke-width="1.9"/>
<rect x="205.2" y="449.5" width="226.8" height="226.7" fill="none" stroke="#000" stroke-width="1.2"/>
<line x1="203.0" y1="676.2" x2="205.2" y2="676.2" stroke="#000" stroke-width="1.1"/>
<text x="196.6" y="680.1" font-size="11" text-anchor="end">0.0</text>
<line x1="203.0" y1="600.62" x2="205.2" y2="600.62" stroke="#000" stroke-width="1.1"/>
<text x="196.6" y="604.52" font-size="11" text-anchor="end">0.2</text>
<line x1="203.0" y1="525.04" x2="205.2" y2="525.04" stroke="#000" stroke-width="1.1"/>
<text x="196.6" y="528.94" font-size="11" text-anchor="end">0.4</text>
<line x1="203.0" y1="449.46" x2="205.2" y2="449.46" stroke="#000" stroke-width="1.1"/>
<text x="196.6" y="453.36" font-size="11" text-anchor="end">0.6</text>
<line x1="203.7" y1="638.41" x2="205.2" y2="638.41" stroke="#000" stroke-width="1.1"/>
<line x1="203.7" y1="562.83" x2="205.2" y2="562.83" stroke="#000" stroke-width="1.1"/>
<line x1="203.7" y1="487.25" x2="205.2" y2="487.25" stroke="#000" stroke-width="1.1"/>
<line x1="249.5" y1="676.2" x2="249.5" y2="678.4000000000001" stroke="#000" stroke-width="1.1"/>
<text x="249.2" y="694.5" font-size="11" text-anchor="middle">0.5</text>
<line x1="304.8" y1="676.2" x2="304.8" y2="678.4000000000001" stroke="#000" stroke-width="1.1"/>
<text x="304.5" y="694.5" font-size="11" text-anchor="middle">1.0</text>
<line x1="360.1" y1="676.2" x2="360.1" y2="678.4000000000001" stroke="#000" stroke-width="1.1"/>
<text x="359.8" y="694.5" font-size="11" text-anchor="middle">1.5</text>
<line x1="415.4" y1="676.2" x2="415.4" y2="678.4000000000001" stroke="#000" stroke-width="1.1"/>
<text x="415.1" y="694.5" font-size="11" text-anchor="middle">2.0</text>
<line x1="277.15" y1="676.2" x2="277.15" y2="677.6" stroke="#000" stroke-width="1.1"/>
<line x1="332.45" y1="676.2" x2="332.45" y2="677.6" stroke="#000" stroke-width="1.1"/>
<line x1="387.75" y1="676.2" x2="387.75" y2="677.6" stroke="#000" stroke-width="1.1"/>
<text x="223.6" y="667.0" fill="#a0a0a0" font-size="15" font-style="italic">t</text><text x="230.0" y="662.5" fill="#a0a0a0" font-size="9.5" font-style="italic">−1</text><text x="227.0" y="672.0" fill="#a0a0a0" font-size="9.5">slow</text>
<text x="251.8" y="667.0" fill="#a0a0a0" font-size="15" font-style="italic">t</text><text x="258.2" y="662.5" fill="#a0a0a0" font-size="9.5" font-style="italic">−1</text><text x="255.20000000000002" y="672.0" fill="#a0a0a0" font-size="9.5">drop</text>
<text x="396.0" y="667.0" fill="#a0a0a0" font-size="15" font-style="italic">t</text><text x="402.4" y="662.5" fill="#a0a0a0" font-size="9.5" font-style="italic">−1</text><text x="399.4" y="672.0" fill="#a0a0a0" font-size="9.5">fast</text>
<text x="298.7" y="719.5" font-size="13.5"><tspan font-style="italic">f</tspan><tspan font-size="9.5" dy="3">D</tspan><tspan dy="-3"> (s</tspan><tspan font-size="9.5" dy="-5">−1</tspan><tspan dy="5">)</tspan></text>
<text x="0" y="0" font-size="14" text-anchor="middle" transform="translate(169.8 558.8) rotate(-90)">Hexagonal fraction</text>
<text x="158.3" y="440.3" font-size="17.5" font-weight="bold">d</text>
</g>
<g id="panele">
<rect x="450.8" y="446.1" width="234.2" height="232.5" fill="#000"/>
<defs>
<pattern id="ptY" patternUnits="userSpaceOnUse" x="553.6" y="532.5" width="18.55" height="31.6"><rect width="18.55" height="31.6" fill="#fbe886"/><circle cx="0" cy="0" r="8.55" fill="#cbac40"/><circle cx="18.55" cy="0" r="8.55" fill="#cbac40"/><circle cx="9.28" cy="15.8" r="8.55" fill="#cbac40"/><circle cx="0" cy="31.6" r="8.55" fill="#cbac40"/><circle cx="18.55" cy="31.6" r="8.55" fill="#cbac40"/></pattern>
<pattern id="ptB" patternUnits="userSpaceOnUse" x="553.6" y="532.5" width="18.55" height="31.6"><rect width="18.55" height="31.6" fill="#4646bc"/><circle cx="0" cy="0" r="8.5" fill="#23238f"/><circle cx="18.55" cy="0" r="8.5" fill="#23238f"/><circle cx="9.28" cy="15.8" r="8.5" fill="#23238f"/><circle cx="0" cy="31.6" r="8.5" fill="#23238f"/><circle cx="18.55" cy="31.6" r="8.5" fill="#23238f"/></pattern>
<pattern id="ptV" patternUnits="userSpaceOnUse" x="553.6" y="532.5" width="9.28" height="15.8"><rect width="9.28" height="15.8" fill="#8c8ce8"/><circle cx="0" cy="0" r="4.3" fill="#4e4ebe"/><circle cx="9.28" cy="0" r="4.3" fill="#4e4ebe"/><circle cx="4.64" cy="7.9" r="4.3" fill="#4e4ebe"/><circle cx="0" cy="15.8" r="4.3" fill="#4e4ebe"/><circle cx="9.28" cy="15.8" r="4.3" fill="#4e4ebe"/></pattern>
<pattern id="ptH" patternUnits="userSpaceOnUse" x="553.6" y="532.5" width="9.28" height="15.8"><rect width="9.28" height="15.8" fill="#a6a6f2"/><circle cx="0" cy="0" r="4.1" fill="#5a5ac6"/><circle cx="9.28" cy="0" r="4.1" fill="#5a5ac6"/><circle cx="4.64" cy="7.9" r="4.1" fill="#5a5ac6"/><circle cx="0" cy="15.8" r="4.1" fill="#5a5ac6"/><circle cx="9.28" cy="15.8" r="4.1" fill="#5a5ac6"/></pattern>
<pattern id="ptR" patternUnits="userSpaceOnUse" x="553.6" y="532.5" width="9.28" height="15.8"><rect width="9.28" height="15.8" fill="#d67878"/><circle cx="0" cy="0" r="3.9" fill="#8a2a30"/><circle cx="9.28" cy="0" r="3.9" fill="#8a2a30"/><circle cx="4.64" cy="7.9" r="3.9" fill="#8a2a30"/><circle cx="0" cy="15.8" r="3.9" fill="#8a2a30"/><circle cx="9.28" cy="15.8" r="3.9" fill="#8a2a30"/></pattern>
<pattern id="ptC" patternUnits="userSpaceOnUse" x="553.6" y="532.5" width="9.28" height="15.8"><rect width="9.28" height="15.8" fill="#90f0fa"/><circle cx="0" cy="0" r="3.9" fill="#2aaac0"/><circle cx="9.28" cy="0" r="3.9" fill="#2aaac0"/><circle cx="4.64" cy="7.9" r="3.9" fill="#2aaac0"/><circle cx="0" cy="15.8" r="3.9" fill="#2aaac0"/><circle cx="9.28" cy="15.8" r="3.9" fill="#2aaac0"/></pattern>
<radialGradient id="gdrop" cx="50%" cy="50%" r="50%"><stop offset="0" stop-color="#4a4a4a"/><stop offset="0.8" stop-color="#555"/><stop offset="1" stop-color="#6a6a6a"/></radialGradient>
</defs>
<circle cx="481" cy="509.8" r="1.1" fill="#666"/>
<circle cx="484.6" cy="512.7" r="0.9" fill="#555"/>
<circle cx="482" cy="531" r="0.8" fill="#444"/>
<circle cx="482.5" cy="547.4" r="1.3" fill="#777"/>
<circle cx="486" cy="548" r="1.0" fill="#666"/>
<circle cx="475" cy="554" r="0.8" fill="#444"/>
<circle cx="514" cy="472" r="0.9" fill="#555"/>
<circle cx="531" cy="476" r="1.0" fill="#666"/>
<circle cx="540" cy="480" r="0.8" fill="#555"/>
<circle cx="657" cy="520" r="0.8" fill="#444"/>
<circle cx="663" cy="580" r="0.9" fill="#444"/>
<circle cx="492" cy="625" r="1.6" fill="#777"/>
<circle cx="483" cy="636" r="1.2" fill="#666"/>
<circle cx="560" cy="660" r="1.0" fill="#555"/>
<circle cx="520" cy="667" r="0.8" fill="#444"/>
<circle cx="548" cy="468.3" r="8.9" fill="#3c3c3c"/>
<circle cx="499.5" cy="495.8" r="10" fill="url(#gdrop)" stroke="#e4e4e4" stroke-width="1.3"/>
<circle cx="563.2" cy="482.7" r="9.4" fill="url(#gdrop)" stroke="#e4e4e4" stroke-width="1.3"/>
<circle cx="602" cy="485.5" r="9.2" fill="url(#gdrop)" stroke="#e4e4e4" stroke-width="1.3"/>
<circle cx="618.7" cy="478.6" r="9.6" fill="url(#gdrop)" stroke="#e4e4e4" stroke-width="1.3"/>
<circle cx="647.8" cy="491" r="9.5" fill="url(#gdrop)" stroke="#e4e4e4" stroke-width="1.3"/>
<circle cx="497.5" cy="534" r="10" fill="url(#gdrop)" stroke="#e4e4e4" stroke-width="1.3"/>
<circle cx="495" cy="556" r="10" fill="url(#gdrop)" stroke="#e4e4e4" stroke-width="1.3"/>
<circle cx="489.7" cy="576.5" r="10.5" fill="url(#gdrop)" stroke="#e4e4e4" stroke-width="1.3"/>
<circle cx="491.5" cy="603.5" r="10.5" fill="url(#gdrop)" stroke="#e4e4e4" stroke-width="1.3"/>
<circle cx="500.5" cy="634" r="10" fill="url(#gdrop)" stroke="#e4e4e4" stroke-width="1.3"/>
<circle cx="648.6" cy="527.2" r="9.8" fill="url(#gdrop)" stroke="#e4e4e4" stroke-width="1.3"/>
<circle cx="652.4" cy="564.5" r="10" fill="url(#gdrop)" stroke="#e4e4e4" stroke-width="1.3"/>
<circle cx="649.9" cy="594.4" r="9.8" fill="url(#gdrop)" stroke="#e4e4e4" stroke-width="1.3"/>
<circle cx="646.1" cy="619.3" r="9.6" fill="url(#gdrop)" stroke="#e4e4e4" stroke-width="1.3"/>
<circle cx="641.4" cy="638.1" r="9.5" fill="url(#gdrop)" stroke="#e4e4e4" stroke-width="1.3"/>
<circle cx="504.9" cy="639.3" r="9.4" fill="url(#gdrop)" stroke="#e4e4e4" stroke-width="1.3"/>
<circle cx="528.3" cy="644" r="9.4" fill="url(#gdrop)" stroke="#e4e4e4" stroke-width="1.3"/>
<circle cx="546.6" cy="644" r="9.4" fill="url(#gdrop)" stroke="#e4e4e4" stroke-width="1.3"/>
<circle cx="564.5" cy="642.8" r="9.4" fill="url(#gdrop)" stroke="#e4e4e4" stroke-width="1.3"/>
<circle cx="582.2" cy="641.8" r="9.4" fill="url(#gdrop)" stroke="#e4e4e4" stroke-width="1.3"/>
<circle cx="598.5" cy="642.3" r="9.4" fill="url(#gdrop)" stroke="#e4e4e4" stroke-width="1.3"/>
<circle cx="615.7" cy="643.2" r="9.4" fill="url(#gdrop)" stroke="#e4e4e4" stroke-width="1.3"/>
<polygon points="499.4,496.4 563.2,484.3 618.7,478.8 647.4,492.4 649.9,544.6 652.4,567 649.9,594.4 648.6,624.2 643.7,637.7 613,642.7 535.5,643.3 503.6,637.7 492.3,604.4 490,574 493.5,538.7" fill="url(#ptB)"/>
<polygon points="515.4,501.1 554.5,500.7 563.2,485.3 572.4,500.7 591.7,501.1 601,517.8 611,533.3 625.2,519 643.2,525.9 630.8,536.4 620.9,551.9 611,567.4 600.4,582.3 617.8,611.5 626.5,629.5 614.7,642.5 538,642.5 535.3,627.6 526,612.1 532.8,596 523,578.9 533.5,564 523.9,548.6 515.6,533.3 498.6,533.3 506.7,516.6" fill="url(#ptY)"/>
<clipPath id="rc0"><polygon points="499.9,496.6 515.4,501.1 506.7,516.6"/></clipPath>
<g clip-path="url(#rc0)"><polygon points="499.9,496.6 515.4,501.1 506.7,516.6" fill="#90f0fa"/><circle cx="499.9" cy="496.6" r="8.62" fill="#2aaac0"/><circle cx="515.4" cy="501.1" r="8.62" fill="#2aaac0"/><circle cx="506.7" cy="516.6" r="8.62" fill="#2aaac0"/></g>
<polygon points="499.9,496.6 515.4,501.1 506.7,516.6" fill="none" stroke="#1a1a1a" stroke-width="0.65" stroke-opacity="0.75"/>
<clipPath id="rc1"><polygon points="497.5,533.6 515.6,533.3 496.8,558.3"/></clipPath>
<g clip-path="url(#rc1)"><polygon points="497.5,533.6 515.6,533.3 496.8,558.3" fill="#8c8ce8"/><circle cx="497.5" cy="533.6" r="11.61" fill="#4e4ebe"/><circle cx="515.6" cy="533.3" r="11.61" fill="#4e4ebe"/><circle cx="496.8" cy="558.3" r="11.61" fill="#4e4ebe"/></g>
<polygon points="497.5,533.6 515.6,533.3 496.8,558.3" fill="none" stroke="#1a1a1a" stroke-width="0.65" stroke-opacity="0.75"/>
<clipPath id="rc2"><polygon points="515.6,533.3 523.9,548.6 496.8,558.3"/></clipPath>
<g clip-path="url(#rc2)"><polygon points="515.6,533.3 523.9,548.6 496.8,558.3" fill="#8c8ce8"/><circle cx="515.6" cy="533.3" r="12.14" fill="#4e4ebe"/><circle cx="523.9" cy="548.6" r="12.14" fill="#4e4ebe"/><circle cx="496.8" cy="558.3" r="12.14" fill="#4e4ebe"/></g>
<polygon points="515.6,533.3 523.9,548.6 496.8,558.3" fill="none" stroke="#1a1a1a" stroke-width="0.65" stroke-opacity="0.75"/>
<clipPath id="rc3"><polygon points="523.9,548.6 508.6,571.4 496.8,558.3"/></clipPath>
<g clip-path="url(#rc3)"><polygon points="523.9,548.6 508.6,571.4 496.8,558.3" fill="#8c8ce8"/><circle cx="523.9" cy="548.6" r="11.57" fill="#4e4ebe"/><circle cx="508.6" cy="571.4" r="11.57" fill="#4e4ebe"/><circle cx="496.8" cy="558.3" r="11.57" fill="#4e4ebe"/></g>
<polygon points="523.9,548.6 508.6,571.4 496.8,558.3" fill="none" stroke="#1a1a1a" stroke-width="0.65" stroke-opacity="0.75"/>
<clipPath id="rc4"><polygon points="523.9,548.6 533.5,564 508.6,571.4"/></clipPath>
<g clip-path="url(#rc4)"><polygon points="523.9,548.6 533.5,564 508.6,571.4" fill="#8c8ce8"/><circle cx="523.9" cy="548.6" r="11.21" fill="#4e4ebe"/><circle cx="533.5" cy="564" r="11.21" fill="#4e4ebe"/><circle cx="508.6" cy="571.4" r="11.21" fill="#4e4ebe"/></g>
<polygon points="523.9,548.6 533.5,564 508.6,571.4" fill="none" stroke="#1a1a1a" stroke-width="0.65" stroke-opacity="0.75"/>
<clipPath id="rc5"><polygon points="496.8,558.3 508.6,571.4 503,588.5 490.2,574.5"/></clipPath>
<g clip-path="url(#rc5)"><polygon points="496.8,558.3 508.6,571.4 503,588.5 490.2,574.5" fill="#fbe886"/><circle cx="496.8" cy="558.3" r="8.47" fill="#cbac40"/><circle cx="508.6" cy="571.4" r="8.47" fill="#cbac40"/><circle cx="503" cy="588.5" r="8.47" fill="#cbac40"/><circle cx="490.2" cy="574.5" r="8.47" fill="#cbac40"/></g>
<polygon points="496.8,558.3 508.6,571.4 503,588.5 490.2,574.5" fill="none" stroke="#1a1a1a" stroke-width="0.65" stroke-opacity="0.75"/>
<clipPath id="rc6"><polygon points="508.6,571.4 533.5,564 523,578.9"/></clipPath>
<g clip-path="url(#rc6)"><polygon points="508.6,571.4 533.5,564 523,578.9" fill="#d67878"/><circle cx="508.6" cy="571.4" r="9.47" fill="#8a2a30"/><circle cx="533.5" cy="564" r="9.47" fill="#8a2a30"/><circle cx="523" cy="578.9" r="9.47" fill="#8a2a30"/></g>
<polygon points="508.6,571.4 533.5,564 523,578.9" fill="none" stroke="#1a1a1a" stroke-width="0.65" stroke-opacity="0.75"/>
<clipPath id="rc7"><polygon points="508.6,571.4 523,578.9 503,588.5"/></clipPath>
<g clip-path="url(#rc7)"><polygon points="508.6,571.4 523,578.9 503,588.5" fill="#90f0fa"/><circle cx="508.6" cy="571.4" r="8.84" fill="#2aaac0"/><circle cx="523" cy="578.9" r="8.84" fill="#2aaac0"/><circle cx="503" cy="588.5" r="8.84" fill="#2aaac0"/></g>
<polygon points="508.6,571.4 523,578.9 503,588.5" fill="none" stroke="#1a1a1a" stroke-width="0.65" stroke-opacity="0.75"/>
<clipPath id="rc8"><polygon points="503,588.5 523,578.9 532.8,596 508.6,605.3"/></clipPath>
<g clip-path="url(#rc8)"><polygon points="503,588.5 523,578.9 532.8,596 508.6,605.3" fill="#8c8ce8"/><circle cx="503" cy="588.5" r="10.05" fill="#4e4ebe"/><circle cx="523" cy="578.9" r="10.05" fill="#4e4ebe"/><circle cx="532.8" cy="596" r="10.05" fill="#4e4ebe"/><circle cx="508.6" cy="605.3" r="10.05" fill="#4e4ebe"/></g>
<polygon points="503,588.5 523,578.9 532.8,596 508.6,605.3" fill="none" stroke="#1a1a1a" stroke-width="0.65" stroke-opacity="0.75"/>
<clipPath id="rc9"><polygon points="492.4,602.8 501.5,590 508.6,605.3"/></clipPath>
<g clip-path="url(#rc9)"><polygon points="492.4,602.8 501.5,590 508.6,605.3" fill="#fbe886"/><circle cx="492.4" cy="602.8" r="7.67" fill="#cbac40"/><circle cx="501.5" cy="590" r="7.67" fill="#cbac40"/><circle cx="508.6" cy="605.3" r="7.67" fill="#cbac40"/></g>
<polygon points="492.4,602.8 501.5,590 508.6,605.3" fill="none" stroke="#1a1a1a" stroke-width="0.65" stroke-opacity="0.75"/>
<clipPath id="rc10"><polygon points="508.6,605.3 532.8,596 526,612.1"/></clipPath>
<g clip-path="url(#rc10)"><polygon points="508.6,605.3 532.8,596 526,612.1" fill="#d67878"/><circle cx="508.6" cy="605.3" r="9.73" fill="#8a2a30"/><circle cx="532.8" cy="596" r="9.73" fill="#8a2a30"/><circle cx="526" cy="612.1" r="9.73" fill="#8a2a30"/></g>
<polygon points="508.6,605.3 532.8,596 526,612.1" fill="none" stroke="#1a1a1a" stroke-width="0.65" stroke-opacity="0.75"/>
<clipPath id="rc11"><polygon points="508.6,605.3 526,612.1 513.5,623.2"/></clipPath>
<g clip-path="url(#rc11)"><polygon points="508.6,605.3 526,612.1 513.5,623.2" fill="#fbe886"/><circle cx="508.6" cy="605.3" r="8.45" fill="#cbac40"/><circle cx="526" cy="612.1" r="8.45" fill="#cbac40"/><circle cx="513.5" cy="623.2" r="8.45" fill="#cbac40"/></g>
<polygon points="508.6,605.3 526,612.1 513.5,623.2" fill="none" stroke="#1a1a1a" stroke-width="0.65" stroke-opacity="0.75"/>
<clipPath id="rc12"><polygon points="513.5,623.2 526,612.1 535.3,627.6"/></clipPath>
<g clip-path="url(#rc12)"><polygon points="513.5,623.2 526,612.1 535.3,627.6" fill="#90f0fa"/><circle cx="513.5" cy="623.2" r="8.94" fill="#2aaac0"/><circle cx="526" cy="612.1" r="8.94" fill="#2aaac0"/><circle cx="535.3" cy="627.6" r="8.94" fill="#2aaac0"/></g>
<polygon points="513.5,623.2 526,612.1 535.3,627.6" fill="none" stroke="#1a1a1a" stroke-width="0.65" stroke-opacity="0.75"/>
<clipPath id="rc13"><polygon points="535.3,627.6 544.5,642.8 529,642.6"/></clipPath>
<g clip-path="url(#rc13)"><polygon points="535.3,627.6 544.5,642.8 529,642.6" fill="#90f0fa"/><circle cx="535.3" cy="627.6" r="7.76" fill="#2aaac0"/><circle cx="544.5" cy="642.8" r="7.76" fill="#2aaac0"/><circle cx="529" cy="642.6" r="7.76" fill="#2aaac0"/></g>
<polygon points="535.3,627.6 544.5,642.8 529,642.6" fill="none" stroke="#1a1a1a" stroke-width="0.65" stroke-opacity="0.75"/>
<clipPath id="rc14"><polygon points="591.7,501.1 603.5,488.6 611.6,504.2"/></clipPath>
<g clip-path="url(#rc14)"><polygon points="591.7,501.1 603.5,488.6 611.6,504.2" fill="#90f0fa"/><circle cx="591.7" cy="501.1" r="8.6" fill="#2aaac0"/><circle cx="603.5" cy="488.6" r="8.6" fill="#2aaac0"/><circle cx="611.6" cy="504.2" r="8.6" fill="#2aaac0"/></g>
<polygon points="591.7,501.1 603.5,488.6 611.6,504.2" fill="none" stroke="#1a1a1a" stroke-width="0.65" stroke-opacity="0.75"/>
<clipPath id="rc15"><polygon points="591.7,501.1 611.6,504.2 601,517.8"/></clipPath>
<g clip-path="url(#rc15)"><polygon points="591.7,501.1 611.6,504.2 601,517.8" fill="#90f0fa"/><circle cx="591.7" cy="501.1" r="8.85" fill="#2aaac0"/><circle cx="611.6" cy="504.2" r="8.85" fill="#2aaac0"/><circle cx="601" cy="517.8" r="8.85" fill="#2aaac0"/></g>
<polygon points="591.7,501.1 611.6,504.2 601,517.8" fill="none" stroke="#1a1a1a" stroke-width="0.65" stroke-opacity="0.75"/>
<clipPath id="rc16"><polygon points="601,517.8 611.6,504.2 625.2,519"/></clipPath>
<g clip-path="url(#rc16)"><polygon points="601,517.8 611.6,504.2 625.2,519" fill="#90f0fa"/><circle cx="601" cy="517.8" r="9.65" fill="#2aaac0"/><circle cx="611.6" cy="504.2" r="9.65" fill="#2aaac0"/><circle cx="625.2" cy="519" r="9.65" fill="#2aaac0"/></g>
<polygon points="601,517.8 611.6,504.2 625.2,519" fill="none" stroke="#1a1a1a" stroke-width="0.65" stroke-opacity="0.75"/>
<clipPath id="rc17"><polygon points="603.5,488.6 618.4,479.3 611.6,504.2"/></clipPath>
<g clip-path="url(#rc17)"><polygon points="603.5,488.6 618.4,479.3 611.6,504.2" fill="#d67878"/><circle cx="603.5" cy="488.6" r="9.55" fill="#8a2a30"/><circle cx="618.4" cy="479.3" r="9.55" fill="#8a2a30"/><circle cx="611.6" cy="504.2" r="9.55" fill="#8a2a30"/></g>
<polygon points="603.5,488.6 618.4,479.3 611.6,504.2" fill="none" stroke="#1a1a1a" stroke-width="0.65" stroke-opacity="0.75"/>
<clipPath id="rc18"><polygon points="618.4,479.3 627.7,495.5 611.6,504.2"/></clipPath>
<g clip-path="url(#rc18)"><polygon points="618.4,479.3 627.7,495.5 611.6,504.2" fill="#d67878"/><circle cx="618.4" cy="479.3" r="9.84" fill="#8a2a30"/><circle cx="627.7" cy="495.5" r="9.84" fill="#8a2a30"/><circle cx="611.6" cy="504.2" r="9.84" fill="#8a2a30"/></g>
<polygon points="618.4,479.3 627.7,495.5 611.6,504.2" fill="none" stroke="#1a1a1a" stroke-width="0.65" stroke-opacity="0.75"/>
<clipPath id="rc19"><polygon points="611.6,504.2 627.7,495.5 625.2,519"/></clipPath>
<g clip-path="url(#rc19)"><polygon points="611.6,504.2 627.7,495.5 625.2,519" fill="#8c8ce8"/><circle cx="611.6" cy="504.2" r="9.72" fill="#4e4ebe"/><circle cx="627.7" cy="495.5" r="9.72" fill="#4e4ebe"/><circle cx="625.2" cy="519" r="9.72" fill="#4e4ebe"/></g>
<polygon points="611.6,504.2 627.7,495.5 625.2,519" fill="none" stroke="#1a1a1a" stroke-width="0.65" stroke-opacity="0.75"/>
<clipPath id="rc20"><polygon points="627.7,495.5 638.9,507.9 625.2,519"/></clipPath>
<g clip-path="url(#rc20)"><polygon points="627.7,495.5 638.9,507.9 625.2,519" fill="#d67878"/><circle cx="627.7" cy="495.5" r="9.08" fill="#8a2a30"/><circle cx="638.9" cy="507.9" r="9.08" fill="#8a2a30"/><circle cx="625.2" cy="519" r="9.08" fill="#8a2a30"/></g>
<polygon points="627.7,495.5 638.9,507.9 625.2,519" fill="none" stroke="#1a1a1a" stroke-width="0.65" stroke-opacity="0.75"/>
<clipPath id="rc21"><polygon points="627.7,494.9 645.7,493 638.9,507.9"/></clipPath>
<g clip-path="url(#rc21)"><polygon points="627.7,494.9 645.7,493 638.9,507.9" fill="#fbe886"/><circle cx="627.7" cy="494.9" r="8.09" fill="#cbac40"/><circle cx="645.7" cy="493" r="8.09" fill="#cbac40"/><circle cx="638.9" cy="507.9" r="8.09" fill="#cbac40"/></g>
<polygon points="627.7,494.9 645.7,493 638.9,507.9" fill="none" stroke="#1a1a1a" stroke-width="0.65" stroke-opacity="0.75"/>
<clipPath id="rc22"><polygon points="601,517.8 625.2,519 611,533.3"/></clipPath>
<g clip-path="url(#rc22)"><polygon points="601,517.8 625.2,519 611,533.3" fill="#8c8ce8"/><circle cx="601" cy="517.8" r="9.84" fill="#4e4ebe"/><circle cx="625.2" cy="519" r="9.84" fill="#4e4ebe"/><circle cx="611" cy="533.3" r="9.84" fill="#4e4ebe"/></g>
<polygon points="601,517.8 625.2,519 611,533.3" fill="none" stroke="#1a1a1a" stroke-width="0.65" stroke-opacity="0.75"/>
<clipPath id="rc23"><polygon points="625.2,519 638.9,507.9 643.2,525.9"/></clipPath>
<g clip-path="url(#rc23)"><polygon points="625.2,519 638.9,507.9 643.2,525.9" fill="#90f0fa"/><circle cx="625.2" cy="519" r="8.68" fill="#2aaac0"/><circle cx="638.9" cy="507.9" r="8.68" fill="#2aaac0"/><circle cx="643.2" cy="525.9" r="8.68" fill="#2aaac0"/></g>
<polygon points="625.2,519 638.9,507.9 643.2,525.9" fill="none" stroke="#1a1a1a" stroke-width="0.65" stroke-opacity="0.75"/>
<clipPath id="rc24"><polygon points="643.2,525.9 645.5,547 630.8,536.4"/></clipPath>
<g clip-path="url(#rc24)"><polygon points="643.2,525.9 645.5,547 630.8,536.4" fill="#90f0fa"/><circle cx="643.2" cy="525.9" r="8.71" fill="#2aaac0"/><circle cx="645.5" cy="547" r="8.71" fill="#2aaac0"/><circle cx="630.8" cy="536.4" r="8.71" fill="#2aaac0"/></g>
<polygon points="643.2,525.9 645.5,547 630.8,536.4" fill="none" stroke="#1a1a1a" stroke-width="0.65" stroke-opacity="0.75"/>
<clipPath id="rc25"><polygon points="630.8,536.4 645.5,547 620.9,551.9"/></clipPath>
<g clip-path="url(#rc25)"><polygon points="630.8,536.4 645.5,547 620.9,551.9" fill="#d67878"/><circle cx="630.8" cy="536.4" r="9.65" fill="#8a2a30"/><circle cx="645.5" cy="547" r="9.65" fill="#8a2a30"/><circle cx="620.9" cy="551.9" r="9.65" fill="#8a2a30"/></g>
<polygon points="630.8,536.4 645.5,547 620.9,551.9" fill="none" stroke="#1a1a1a" stroke-width="0.65" stroke-opacity="0.75"/>
<clipPath id="rc26"><polygon points="620.9,551.9 645.5,547 634.5,563.1"/></clipPath>
<g clip-path="url(#rc26)"><polygon points="620.9,551.9 645.5,547 634.5,563.1" fill="#d67878"/><circle cx="620.9" cy="551.9" r="9.74" fill="#8a2a30"/><circle cx="645.5" cy="547" r="9.74" fill="#8a2a30"/><circle cx="634.5" cy="563.1" r="9.74" fill="#8a2a30"/></g>
<polygon points="620.9,551.9 645.5,547 634.5,563.1" fill="none" stroke="#1a1a1a" stroke-width="0.65" stroke-opacity="0.75"/>
<clipPath id="rc27"><polygon points="620.9,551.9 634.5,563.1 611,567.4"/></clipPath>
<g clip-path="url(#rc27)"><polygon points="620.9,551.9 634.5,563.1 611,567.4" fill="#d67878"/><circle cx="620.9" cy="551.9" r="9.38" fill="#8a2a30"/><circle cx="634.5" cy="563.1" r="9.38" fill="#8a2a30"/><circle cx="611" cy="567.4" r="9.38" fill="#8a2a30"/></g>
<polygon points="620.9,551.9 634.5,563.1 611,567.4" fill="none" stroke="#1a1a1a" stroke-width="0.65" stroke-opacity="0.75"/>
<clipPath id="rc28"><polygon points="645.5,547 651.9,566.8 634.5,563.1"/></clipPath>
<g clip-path="url(#rc28)"><polygon points="645.5,547 651.9,566.8 634.5,563.1" fill="#90f0fa"/><circle cx="645.5" cy="547" r="9.1" fill="#2aaac0"/><circle cx="651.9" cy="566.8" r="9.1" fill="#2aaac0"/><circle cx="634.5" cy="563.1" r="9.1" fill="#2aaac0"/></g>
<polygon points="645.5,547 651.9,566.8 634.5,563.1" fill="none" stroke="#1a1a1a" stroke-width="0.65" stroke-opacity="0.75"/>
<clipPath id="rc29"><polygon points="634.5,563.1 651.9,566.8 642,578.6"/></clipPath>
<g clip-path="url(#rc29)"><polygon points="634.5,563.1 651.9,566.8 642,578.6" fill="#fbe886"/><circle cx="634.5" cy="563.1" r="7.9" fill="#cbac40"/><circle cx="651.9" cy="566.8" r="7.9" fill="#cbac40"/><circle cx="642" cy="578.6" r="7.9" fill="#cbac40"/></g>
<polygon points="634.5,563.1 651.9,566.8 642,578.6" fill="none" stroke="#1a1a1a" stroke-width="0.65" stroke-opacity="0.75"/>
<clipPath id="rc30"><polygon points="600.4,582.3 611,567.4 634.5,563.1 624.6,588.5"/></clipPath>
<g clip-path="url(#rc30)"><polygon points="600.4,582.3 611,567.4 634.5,563.1 624.6,588.5" fill="#8c8ce8"/><circle cx="600.4" cy="582.3" r="11.09" fill="#4e4ebe"/><circle cx="611" cy="567.4" r="11.09" fill="#4e4ebe"/><circle cx="634.5" cy="563.1" r="11.09" fill="#4e4ebe"/><circle cx="624.6" cy="588.5" r="11.09" fill="#4e4ebe"/></g>
<polygon points="600.4,582.3 611,567.4 634.5,563.1 624.6,588.5" fill="none" stroke="#1a1a1a" stroke-width="0.65" stroke-opacity="0.75"/>
<clipPath id="rc31"><polygon points="600.4,582.3 624.6,588.5 617.8,611.5 608.3,597.7"/></clipPath>
<g clip-path="url(#rc31)"><polygon points="600.4,582.3 624.6,588.5 617.8,611.5 608.3,597.7" fill="#d67878"/><circle cx="600.4" cy="582.3" r="9.76" fill="#8a2a30"/><circle cx="624.6" cy="588.5" r="9.76" fill="#8a2a30"/><circle cx="617.8" cy="611.5" r="9.76" fill="#8a2a30"/><circle cx="608.3" cy="597.7" r="9.76" fill="#8a2a30"/></g>
<polygon points="600.4,582.3 624.6,588.5 617.8,611.5 608.3,597.7" fill="none" stroke="#1a1a1a" stroke-width="0.65" stroke-opacity="0.75"/>
<clipPath id="rc32"><polygon points="624.6,588.5 647.6,594.7 634.5,605.9"/></clipPath>
<g clip-path="url(#rc32)"><polygon points="624.6,588.5 647.6,594.7 634.5,605.9" fill="#d67878"/><circle cx="624.6" cy="588.5" r="9.57" fill="#8a2a30"/><circle cx="647.6" cy="594.7" r="9.57" fill="#8a2a30"/><circle cx="634.5" cy="605.9" r="9.57" fill="#8a2a30"/></g>
<polygon points="624.6,588.5 647.6,594.7 634.5,605.9" fill="none" stroke="#1a1a1a" stroke-width="0.65" stroke-opacity="0.75"/>
<clipPath id="rc33"><polygon points="624.6,588.5 634.5,605.9 617.8,611.5"/></clipPath>
<g clip-path="url(#rc33)"><polygon points="624.6,588.5 634.5,605.9 617.8,611.5" fill="#90f0fa"/><circle cx="624.6" cy="588.5" r="9.65" fill="#2aaac0"/><circle cx="634.5" cy="605.9" r="9.65" fill="#2aaac0"/><circle cx="617.8" cy="611.5" r="9.65" fill="#2aaac0"/></g>
<polygon points="624.6,588.5 634.5,605.9 617.8,611.5" fill="none" stroke="#1a1a1a" stroke-width="0.65" stroke-opacity="0.75"/>
<clipPath id="rc34"><polygon points="617.8,611.5 634.5,605.9 642,622 626.5,629.5"/></clipPath>
<g clip-path="url(#rc34)"><polygon points="617.8,611.5 634.5,605.9 642,622 626.5,629.5" fill="#d67878"/><circle cx="617.8" cy="611.5" r="8.53" fill="#8a2a30"/><circle cx="634.5" cy="605.9" r="8.53" fill="#8a2a30"/><circle cx="642" cy="622" r="8.53" fill="#8a2a30"/><circle cx="626.5" cy="629.5" r="8.53" fill="#8a2a30"/></g>
<polygon points="617.8,611.5 634.5,605.9 642,622 626.5,629.5" fill="none" stroke="#1a1a1a" stroke-width="0.65" stroke-opacity="0.75"/>
<clipPath id="rc35"><polygon points="626.5,629.5 642,622 641.3,637.5"/></clipPath>
<g clip-path="url(#rc35)"><polygon points="626.5,629.5 642,622 641.3,637.5" fill="#fbe886"/><circle cx="626.5" cy="629.5" r="7.76" fill="#cbac40"/><circle cx="642" cy="622" r="7.76" fill="#cbac40"/><circle cx="641.3" cy="637.5" r="7.76" fill="#cbac40"/></g>
<polygon points="626.5,629.5 642,622 641.3,637.5" fill="none" stroke="#1a1a1a" stroke-width="0.65" stroke-opacity="0.75"/>
<clipPath id="hexc"><polygon points="570.9,597.1 608.8,597.5 617.6,611.3 607.6,626.2 571.5,625.8 562.7,611.2"/></clipPath>
<polygon points="570.9,597.1 608.8,597.5 617.6,611.3 607.6,626.2 571.5,625.8 562.7,611.2" fill="#8e8ee4"/>
<g clip-path="url(#hexc)"><circle cx="574" cy="601" r="6.6" fill="#4848b6"/><circle cx="589.5" cy="601.5" r="6.6" fill="#4848b6"/><circle cx="605" cy="601" r="6.6" fill="#4848b6"/><circle cx="573.5" cy="621.5" r="7" fill="#4848b6"/><circle cx="589.3" cy="620.5" r="7" fill="#4848b6"/><circle cx="605" cy="621.2" r="7" fill="#4848b6"/><circle cx="562" cy="611" r="5" fill="#4848b6"/><circle cx="618" cy="611" r="5" fill="#4848b6"/></g>
<path d="M589.5,597.5 L572,625.8 M589.5,597.5 L607.6,626.2 M589.5,597.5 L589.3,625.8" stroke="#1a1a3a" stroke-width="0.8" fill="none"/>
<polygon points="570.9,597.1 608.8,597.5 617.6,611.3 607.6,626.2 571.5,625.8 562.7,611.2" fill="none" stroke="#1a1a1a" stroke-width="0.8"/>
<clipPath id="ylc"><path d="M515.4,501.1 L554.5,500.7 L563.2,485.3 L572.4,500.7 L591.7,501.1 L601,517.8 L611,533.3 L625.2,519 L643.2,525.9 L630.8,536.4 L620.9,551.9 L611,567.4 L600.4,582.3 L617.8,611.5 L626.5,629.5 L614.7,642.5 L538,642.5 L535.3,627.6 L526,612.1 L532.8,596 L523,578.9 L533.5,564 L523.9,548.6 L515.6,533.3 L498.6,533.3 L506.7,516.6 Z M570.9,597.1 L608.8,597.5 L617.6,611.3 L607.6,626.2 L571.5,625.8 L562.7,611.2 Z" clip-rule="evenodd"/></clipPath>
<path d="M480,469.3 H660 M480,485.1 H660 M480,500.9 H660 M480,516.7 H660 M480,532.5 H660 M480,548.3 H660 M480,564.1 H660 M480,579.9 H660 M480,595.7 H660 M480,611.5 H660 M480,627.3 H660 M480,643.1 H660 M223.46,412.5 L364.34,652.5 M364.34,412.5 L223.46,652.5 M242.01,412.5 L382.89,652.5 M382.89,412.5 L242.01,652.5 M260.56,412.5 L401.44,652.5 M401.44,412.5 L260.56,652.5 M279.11,412.5 L419.99,652.5 M419.99,412.5 L279.11,652.5 M297.66,412.5 L438.54,652.5 M438.54,412.5 L297.66,652.5 M316.21,412.5 L457.09,652.5 M457.09,412.5 L316.21,652.5 M334.76,412.5 L475.64,652.5 M475.64,412.5 L334.76,652.5 M353.31,412.5 L494.19,652.5 M494.19,412.5 L353.31,652.5 M371.86,412.5 L512.74,652.5 M512.74,412.5 L371.86,652.5 M390.41,412.5 L531.29,652.5 M531.29,412.5 L390.41,652.5 M408.96,412.5 L549.84,652.5 M549.84,412.5 L408.96,652.5 M427.51,412.5 L568.39,652.5 M568.39,412.5 L427.51,652.5 M446.06,412.5 L586.94,652.5 M586.94,412.5 L446.06,652.5 M464.61,412.5 L605.49,652.5 M605.49,412.5 L464.61,652.5 M483.16,412.5 L624.04,652.5 M624.04,412.5 L483.16,652.5 M501.71,412.5 L642.59,652.5 M642.59,412.5 L501.71,652.5 M520.26,412.5 L661.14,652.5 M661.14,412.5 L520.26,652.5 M538.81,412.5 L679.69,652.5 M679.69,412.5 L538.81,652.5 M557.36,412.5 L698.24,652.5 M698.24,412.5 L557.36,652.5 M575.91,412.5 L716.79,652.5 M716.79,412.5 L575.91,652.5 M594.46,412.5 L735.34,652.5 M735.34,412.5 L594.46,652.5 M613.01,412.5 L753.89,652.5 M753.89,412.5 L613.01,652.5 M631.56,412.5 L772.44,652.5 M772.44,412.5 L631.56,652.5 M650.11,412.5 L790.99,652.5 M790.99,412.5 L650.11,652.5 M668.66,412.5 L809.54,652.5 M809.54,412.5 L668.66,652.5 M687.21,412.5 L828.09,652.5 M828.09,412.5 L687.21,652.5 M705.76,412.5 L846.64,652.5 M846.64,412.5 L705.76,652.5 M724.31,412.5 L865.19,652.5 M865.19,412.5 L724.31,652.5" stroke="#2a2410" stroke-width="0.6" fill="none" clip-path="url(#ylc)" opacity="0.68"/>
<polygon points="499.4,496.4 563.2,484.3 618.7,478.8 647.4,492.4 649.9,544.6 652.4,567 649.9,594.4 648.6,624.2 643.7,637.7 613,642.7 535.5,643.3 503.6,637.7 492.3,604.4 490,574 493.5,538.7" fill="none" stroke="#10104a" stroke-width="0.8"/>
<line x1="656.1" y1="668" x2="676.2" y2="668" stroke="#fff" stroke-width="2.1"/>
<text x="450.6" y="440.1" font-size="17.5" font-weight="bold">e</text>
</g>
</svg>
</body></html>
